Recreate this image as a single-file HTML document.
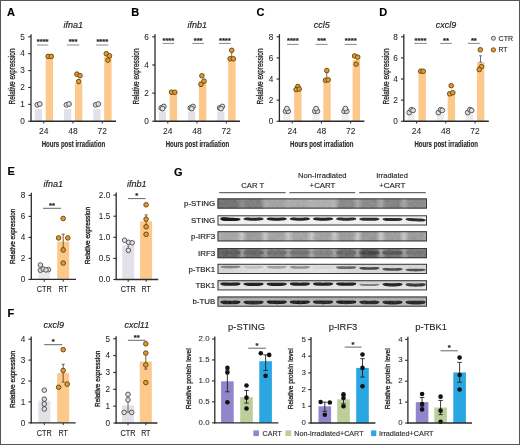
<!DOCTYPE html><html><head><meta charset="utf-8"><style>html,body{margin:0;padding:0;background:#fff;}svg{display:block;will-change:transform;} text{font-family:"Liberation Sans",sans-serif;}</style></head><body><svg width="520" height="445" viewBox="0 0 520 445" font-family="Liberation Sans">
<defs><filter id="bl" x="-20%" y="-50%" width="140%" height="200%"><feGaussianBlur stdDeviation="0.45"/></filter><filter id="nz"><feTurbulence type="fractalNoise" baseFrequency="0.35" numOctaves="2" seed="4"/><feColorMatrix type="saturate" values="0"/><feComponentTransfer><feFuncA type="table" tableValues="0 0.5"/></feComponentTransfer></filter><linearGradient id="vshade" x1="0" x2="0" y1="0" y2="1"><stop offset="0" stop-color="#000" stop-opacity="0.18"/><stop offset="0.5" stop-color="#000" stop-opacity="0.04"/><stop offset="1" stop-color="#fff" stop-opacity="0.1"/></linearGradient><pattern id="noise" patternUnits="userSpaceOnUse" width="520" height="445"><rect width="520" height="445" filter="url(#nz)"/></pattern></defs>
<rect width="520" height="445" fill="#fff"/>
<text x="7.00" y="16.20" font-size="11" text-anchor="start" font-weight="bold" font-style="normal" fill="#000" stroke="#000" stroke-width="0.16" >A</text>
<text x="73.30" y="27.80" font-size="9" text-anchor="middle" font-weight="normal" font-style="italic" fill="#222" stroke="#222" stroke-width="0.16" >ifna1</text>
<rect x="34.80" y="109.09" width="7.20" height="12.16" fill="#e2e1ea" />
<rect x="45.70" y="56.05" width="7.40" height="65.20" fill="#fcc88c" />
<circle cx="37.20" cy="104.87" r="2.4" fill="#dedee2" stroke="#4a4a4a" stroke-width="0.9"/>
<circle cx="39.80" cy="104.02" r="2.4" fill="#dedee2" stroke="#4a4a4a" stroke-width="0.9"/>
<circle cx="48.20" cy="56.39" r="2.3" fill="#dc9a38" stroke="#6e4608" stroke-width="0.95"/>
<circle cx="51.30" cy="56.39" r="2.3" fill="#dc9a38" stroke="#6e4608" stroke-width="0.95"/>
<rect x="64.00" y="109.09" width="7.20" height="12.16" fill="#e2e1ea" />
<rect x="74.90" y="83.25" width="7.40" height="38.00" fill="#fcc88c" />
<circle cx="66.40" cy="104.87" r="2.4" fill="#dedee2" stroke="#4a4a4a" stroke-width="0.9"/>
<circle cx="69.00" cy="104.02" r="2.4" fill="#dedee2" stroke="#4a4a4a" stroke-width="0.9"/>
<circle cx="76.90" cy="74.13" r="2.3" fill="#dc9a38" stroke="#6e4608" stroke-width="0.95"/>
<circle cx="80.00" cy="75.65" r="2.3" fill="#dc9a38" stroke="#6e4608" stroke-width="0.95"/>
<circle cx="78.70" cy="81.56" r="2.3" fill="#dc9a38" stroke="#6e4608" stroke-width="0.95"/>
<rect x="93.30" y="109.09" width="7.20" height="12.16" fill="#e2e1ea" />
<rect x="104.20" y="56.56" width="7.40" height="64.69" fill="#fcc88c" />
<circle cx="95.70" cy="104.87" r="2.4" fill="#dedee2" stroke="#4a4a4a" stroke-width="0.9"/>
<circle cx="98.30" cy="104.02" r="2.4" fill="#dedee2" stroke="#4a4a4a" stroke-width="0.9"/>
<circle cx="106.30" cy="53.69" r="2.3" fill="#dc9a38" stroke="#6e4608" stroke-width="0.95"/>
<circle cx="109.50" cy="55.89" r="2.3" fill="#dc9a38" stroke="#6e4608" stroke-width="0.95"/>
<circle cx="107.90" cy="60.11" r="2.3" fill="#dc9a38" stroke="#6e4608" stroke-width="0.95"/>
<line x1="31.00" y1="34.20" x2="31.00" y2="121.85" stroke="#2b2b2b" stroke-width="1.3"/>
<line x1="30.40" y1="121.25" x2="116.00" y2="121.25" stroke="#2b2b2b" stroke-width="1.3"/>
<line x1="28.20" y1="121.25" x2="31.00" y2="121.25" stroke="#2b2b2b" stroke-width="1.1"/>
<text x="24.90" y="124.04" font-size="8.2" text-anchor="end" font-weight="normal" font-style="normal" fill="#262626" stroke="#262626" stroke-width="0.05" >0</text>
<line x1="28.20" y1="104.36" x2="31.00" y2="104.36" stroke="#2b2b2b" stroke-width="1.1"/>
<text x="24.90" y="107.15" font-size="8.2" text-anchor="end" font-weight="normal" font-style="normal" fill="#262626" stroke="#262626" stroke-width="0.05" >1</text>
<line x1="28.20" y1="87.47" x2="31.00" y2="87.47" stroke="#2b2b2b" stroke-width="1.1"/>
<text x="24.90" y="90.26" font-size="8.2" text-anchor="end" font-weight="normal" font-style="normal" fill="#262626" stroke="#262626" stroke-width="0.05" >2</text>
<line x1="28.20" y1="70.58" x2="31.00" y2="70.58" stroke="#2b2b2b" stroke-width="1.1"/>
<text x="24.90" y="73.37" font-size="8.2" text-anchor="end" font-weight="normal" font-style="normal" fill="#262626" stroke="#262626" stroke-width="0.05" >3</text>
<line x1="28.20" y1="53.69" x2="31.00" y2="53.69" stroke="#2b2b2b" stroke-width="1.1"/>
<text x="24.90" y="56.48" font-size="8.2" text-anchor="end" font-weight="normal" font-style="normal" fill="#262626" stroke="#262626" stroke-width="0.05" >4</text>
<line x1="28.20" y1="36.80" x2="31.00" y2="36.80" stroke="#2b2b2b" stroke-width="1.1"/>
<text x="24.90" y="39.59" font-size="8.2" text-anchor="end" font-weight="normal" font-style="normal" fill="#262626" stroke="#262626" stroke-width="0.05" >5</text>
<line x1="43.80" y1="121.25" x2="43.80" y2="123.55" stroke="#2b2b2b" stroke-width="1.0"/>
<text x="43.80" y="134.40" font-size="8.5" text-anchor="middle" font-weight="normal" font-style="normal" fill="#262626" stroke="#262626" stroke-width="0.05" >24</text>
<line x1="73.00" y1="121.25" x2="73.00" y2="123.55" stroke="#2b2b2b" stroke-width="1.0"/>
<text x="73.00" y="134.40" font-size="8.5" text-anchor="middle" font-weight="normal" font-style="normal" fill="#262626" stroke="#262626" stroke-width="0.05" >48</text>
<line x1="102.30" y1="121.25" x2="102.30" y2="123.55" stroke="#2b2b2b" stroke-width="1.0"/>
<text x="102.30" y="134.40" font-size="8.5" text-anchor="middle" font-weight="normal" font-style="normal" fill="#262626" stroke="#262626" stroke-width="0.05" >72</text>
<text x="73.40" y="146.80" font-size="9.0" text-anchor="middle" font-weight="bold" font-style="normal" fill="#2a2a2a" stroke="#2a2a2a" stroke-width="0.15" textLength="63.5" lengthAdjust="spacingAndGlyphs" >Hours post irradiation</text>
<text transform="translate(14.50,76.50) rotate(-90)" font-size="8.2" text-anchor="middle" fill="#262626" stroke="#262626" stroke-width="0.3" textLength="56" lengthAdjust="spacingAndGlyphs">Relative expression</text>
<line x1="37.00" y1="45.00" x2="48.30" y2="45.00" stroke="#8a8a8a" stroke-width="1.0"/>
<text x="42.65" y="43.90" font-size="7.6" text-anchor="middle" font-weight="bold" font-style="normal" fill="#222" stroke="#222" stroke-width="0.16" >****</text>
<line x1="66.80" y1="45.00" x2="79.40" y2="45.00" stroke="#8a8a8a" stroke-width="1.0"/>
<text x="73.10" y="43.90" font-size="7.6" text-anchor="middle" font-weight="bold" font-style="normal" fill="#222" stroke="#222" stroke-width="0.16" >***</text>
<line x1="96.20" y1="45.00" x2="108.40" y2="45.00" stroke="#8a8a8a" stroke-width="1.0"/>
<text x="102.30" y="43.90" font-size="7.6" text-anchor="middle" font-weight="bold" font-style="normal" fill="#222" stroke="#222" stroke-width="0.16" >****</text>
<text x="131.20" y="16.20" font-size="11" text-anchor="start" font-weight="bold" font-style="normal" fill="#000" stroke="#000" stroke-width="0.16" >B</text>
<text x="197.30" y="27.80" font-size="9" text-anchor="middle" font-weight="normal" font-style="italic" fill="#222" stroke="#222" stroke-width="0.16" >ifnb1</text>
<rect x="158.80" y="111.40" width="7.20" height="9.85" fill="#e2e1ea" />
<rect x="169.70" y="92.68" width="7.40" height="28.57" fill="#fcc88c" />
<circle cx="161.20" cy="107.88" r="2.4" fill="#dedee2" stroke="#4a4a4a" stroke-width="0.9"/>
<circle cx="163.80" cy="106.47" r="2.4" fill="#dedee2" stroke="#4a4a4a" stroke-width="0.9"/>
<circle cx="162.50" cy="108.58" r="2.4" fill="#dedee2" stroke="#4a4a4a" stroke-width="0.9"/>
<circle cx="171.60" cy="92.26" r="2.3" fill="#dc9a38" stroke="#6e4608" stroke-width="0.95"/>
<circle cx="174.80" cy="92.26" r="2.3" fill="#dc9a38" stroke="#6e4608" stroke-width="0.95"/>
<rect x="188.00" y="111.40" width="7.20" height="9.85" fill="#e2e1ea" />
<rect x="198.90" y="81.14" width="7.40" height="40.11" fill="#fcc88c" />
<circle cx="190.40" cy="107.88" r="2.4" fill="#dedee2" stroke="#4a4a4a" stroke-width="0.9"/>
<circle cx="193.00" cy="106.47" r="2.4" fill="#dedee2" stroke="#4a4a4a" stroke-width="0.9"/>
<circle cx="191.70" cy="108.58" r="2.4" fill="#dedee2" stroke="#4a4a4a" stroke-width="0.9"/>
<circle cx="201.90" cy="75.79" r="2.3" fill="#dc9a38" stroke="#6e4608" stroke-width="0.95"/>
<circle cx="204.00" cy="81.14" r="2.3" fill="#dc9a38" stroke="#6e4608" stroke-width="0.95"/>
<circle cx="201.00" cy="84.37" r="2.3" fill="#dc9a38" stroke="#6e4608" stroke-width="0.95"/>
<rect x="217.30" y="111.40" width="7.20" height="9.85" fill="#e2e1ea" />
<rect x="228.20" y="59.32" width="7.40" height="61.93" fill="#fcc88c" />
<line x1="231.70" y1="59.32" x2="231.70" y2="50.88" stroke="#8a5a20" stroke-width="0.9"/>
<line x1="230.40" y1="50.88" x2="233.00" y2="50.88" stroke="#8a5a20" stroke-width="0.9"/>
<line x1="230.40" y1="59.32" x2="233.00" y2="59.32" stroke="#8a5a20" stroke-width="0.9"/>
<circle cx="219.70" cy="107.88" r="2.4" fill="#dedee2" stroke="#4a4a4a" stroke-width="0.9"/>
<circle cx="222.30" cy="106.47" r="2.4" fill="#dedee2" stroke="#4a4a4a" stroke-width="0.9"/>
<circle cx="221.00" cy="108.58" r="2.4" fill="#dedee2" stroke="#4a4a4a" stroke-width="0.9"/>
<circle cx="231.70" cy="50.31" r="2.3" fill="#dc9a38" stroke="#6e4608" stroke-width="0.95"/>
<circle cx="230.10" cy="58.76" r="2.3" fill="#dc9a38" stroke="#6e4608" stroke-width="0.95"/>
<circle cx="233.30" cy="58.76" r="2.3" fill="#dc9a38" stroke="#6e4608" stroke-width="0.95"/>
<line x1="155.00" y1="34.20" x2="155.00" y2="121.85" stroke="#2b2b2b" stroke-width="1.3"/>
<line x1="154.40" y1="121.25" x2="240.00" y2="121.25" stroke="#2b2b2b" stroke-width="1.3"/>
<line x1="152.20" y1="121.25" x2="155.00" y2="121.25" stroke="#2b2b2b" stroke-width="1.1"/>
<text x="148.90" y="124.04" font-size="8.2" text-anchor="end" font-weight="normal" font-style="normal" fill="#262626" stroke="#262626" stroke-width="0.05" >0</text>
<line x1="152.20" y1="93.10" x2="155.00" y2="93.10" stroke="#2b2b2b" stroke-width="1.1"/>
<text x="148.90" y="95.89" font-size="8.2" text-anchor="end" font-weight="normal" font-style="normal" fill="#262626" stroke="#262626" stroke-width="0.05" >2</text>
<line x1="152.20" y1="64.95" x2="155.00" y2="64.95" stroke="#2b2b2b" stroke-width="1.1"/>
<text x="148.90" y="67.74" font-size="8.2" text-anchor="end" font-weight="normal" font-style="normal" fill="#262626" stroke="#262626" stroke-width="0.05" >4</text>
<line x1="152.20" y1="36.80" x2="155.00" y2="36.80" stroke="#2b2b2b" stroke-width="1.1"/>
<text x="148.90" y="39.59" font-size="8.2" text-anchor="end" font-weight="normal" font-style="normal" fill="#262626" stroke="#262626" stroke-width="0.05" >6</text>
<line x1="167.80" y1="121.25" x2="167.80" y2="123.55" stroke="#2b2b2b" stroke-width="1.0"/>
<text x="167.80" y="134.40" font-size="8.5" text-anchor="middle" font-weight="normal" font-style="normal" fill="#262626" stroke="#262626" stroke-width="0.05" >24</text>
<line x1="197.00" y1="121.25" x2="197.00" y2="123.55" stroke="#2b2b2b" stroke-width="1.0"/>
<text x="197.00" y="134.40" font-size="8.5" text-anchor="middle" font-weight="normal" font-style="normal" fill="#262626" stroke="#262626" stroke-width="0.05" >48</text>
<line x1="226.30" y1="121.25" x2="226.30" y2="123.55" stroke="#2b2b2b" stroke-width="1.0"/>
<text x="226.30" y="134.40" font-size="8.5" text-anchor="middle" font-weight="normal" font-style="normal" fill="#262626" stroke="#262626" stroke-width="0.05" >72</text>
<text x="197.40" y="146.80" font-size="9.0" text-anchor="middle" font-weight="bold" font-style="normal" fill="#2a2a2a" stroke="#2a2a2a" stroke-width="0.15" textLength="63.5" lengthAdjust="spacingAndGlyphs" >Hours post irradiation</text>
<text transform="translate(138.70,76.50) rotate(-90)" font-size="8.2" text-anchor="middle" fill="#262626" stroke="#262626" stroke-width="0.3" textLength="56" lengthAdjust="spacingAndGlyphs">Relative expression</text>
<line x1="162.50" y1="43.40" x2="174.20" y2="43.40" stroke="#8a8a8a" stroke-width="1.0"/>
<text x="168.35" y="42.60" font-size="7.6" text-anchor="middle" font-weight="bold" font-style="normal" fill="#222" stroke="#222" stroke-width="0.16" >****</text>
<line x1="192.30" y1="43.40" x2="204.00" y2="43.40" stroke="#8a8a8a" stroke-width="1.0"/>
<text x="198.15" y="42.60" font-size="7.6" text-anchor="middle" font-weight="bold" font-style="normal" fill="#222" stroke="#222" stroke-width="0.16" >***</text>
<line x1="219.00" y1="43.40" x2="230.70" y2="43.40" stroke="#8a8a8a" stroke-width="1.0"/>
<text x="224.85" y="42.60" font-size="7.6" text-anchor="middle" font-weight="bold" font-style="normal" fill="#222" stroke="#222" stroke-width="0.16" >****</text>
<text x="256.50" y="16.20" font-size="11" text-anchor="start" font-weight="bold" font-style="normal" fill="#000" stroke="#000" stroke-width="0.16" >C</text>
<text x="321.70" y="27.80" font-size="9" text-anchor="middle" font-weight="normal" font-style="italic" fill="#222" stroke="#222" stroke-width="0.16" >ccl5</text>
<rect x="283.20" y="113.86" width="7.20" height="7.39" fill="#efeff1" />
<rect x="294.10" y="90.11" width="7.40" height="31.14" fill="#fcc88c" />
<circle cx="285.60" cy="111.22" r="2.4" fill="#dedee2" stroke="#4a4a4a" stroke-width="0.9"/>
<circle cx="288.20" cy="111.22" r="2.4" fill="#dedee2" stroke="#4a4a4a" stroke-width="0.9"/>
<circle cx="286.90" cy="108.58" r="2.4" fill="#dedee2" stroke="#4a4a4a" stroke-width="0.9"/>
<circle cx="297.80" cy="86.52" r="2.3" fill="#dc9a38" stroke="#6e4608" stroke-width="0.95"/>
<circle cx="296.10" cy="89.58" r="2.3" fill="#dc9a38" stroke="#6e4608" stroke-width="0.95"/>
<circle cx="299.20" cy="89.05" r="2.3" fill="#dc9a38" stroke="#6e4608" stroke-width="0.95"/>
<rect x="312.40" y="113.86" width="7.20" height="7.39" fill="#efeff1" />
<rect x="323.30" y="82.19" width="7.40" height="39.06" fill="#fcc88c" />
<line x1="326.80" y1="80.08" x2="326.80" y2="70.58" stroke="#8a5a20" stroke-width="0.9"/>
<line x1="325.50" y1="70.58" x2="328.10" y2="70.58" stroke="#8a5a20" stroke-width="0.9"/>
<line x1="325.50" y1="80.08" x2="328.10" y2="80.08" stroke="#8a5a20" stroke-width="0.9"/>
<circle cx="314.80" cy="111.22" r="2.4" fill="#dedee2" stroke="#4a4a4a" stroke-width="0.9"/>
<circle cx="317.40" cy="111.22" r="2.4" fill="#dedee2" stroke="#4a4a4a" stroke-width="0.9"/>
<circle cx="316.10" cy="108.58" r="2.4" fill="#dedee2" stroke="#4a4a4a" stroke-width="0.9"/>
<circle cx="326.80" cy="70.58" r="2.3" fill="#dc9a38" stroke="#6e4608" stroke-width="0.95"/>
<circle cx="325.50" cy="80.29" r="2.3" fill="#dc9a38" stroke="#6e4608" stroke-width="0.95"/>
<circle cx="328.20" cy="79.87" r="2.3" fill="#dc9a38" stroke="#6e4608" stroke-width="0.95"/>
<rect x="341.70" y="113.86" width="7.20" height="7.39" fill="#efeff1" />
<rect x="352.60" y="60.02" width="7.40" height="61.23" fill="#fcc88c" />
<circle cx="344.10" cy="111.22" r="2.4" fill="#dedee2" stroke="#4a4a4a" stroke-width="0.9"/>
<circle cx="346.70" cy="111.22" r="2.4" fill="#dedee2" stroke="#4a4a4a" stroke-width="0.9"/>
<circle cx="345.40" cy="108.58" r="2.4" fill="#dedee2" stroke="#4a4a4a" stroke-width="0.9"/>
<circle cx="354.60" cy="56.01" r="2.3" fill="#dc9a38" stroke="#6e4608" stroke-width="0.95"/>
<circle cx="357.70" cy="57.17" r="2.3" fill="#dc9a38" stroke="#6e4608" stroke-width="0.95"/>
<circle cx="356.10" cy="64.14" r="2.3" fill="#dc9a38" stroke="#6e4608" stroke-width="0.95"/>
<line x1="279.40" y1="34.20" x2="279.40" y2="121.85" stroke="#2b2b2b" stroke-width="1.3"/>
<line x1="278.80" y1="121.25" x2="364.40" y2="121.25" stroke="#2b2b2b" stroke-width="1.3"/>
<line x1="276.60" y1="121.25" x2="279.40" y2="121.25" stroke="#2b2b2b" stroke-width="1.1"/>
<text x="273.30" y="124.04" font-size="8.2" text-anchor="end" font-weight="normal" font-style="normal" fill="#262626" stroke="#262626" stroke-width="0.05" >0</text>
<line x1="276.60" y1="100.14" x2="279.40" y2="100.14" stroke="#2b2b2b" stroke-width="1.1"/>
<text x="273.30" y="102.93" font-size="8.2" text-anchor="end" font-weight="normal" font-style="normal" fill="#262626" stroke="#262626" stroke-width="0.05" >2</text>
<line x1="276.60" y1="79.03" x2="279.40" y2="79.03" stroke="#2b2b2b" stroke-width="1.1"/>
<text x="273.30" y="81.81" font-size="8.2" text-anchor="end" font-weight="normal" font-style="normal" fill="#262626" stroke="#262626" stroke-width="0.05" >4</text>
<line x1="276.60" y1="57.91" x2="279.40" y2="57.91" stroke="#2b2b2b" stroke-width="1.1"/>
<text x="273.30" y="60.70" font-size="8.2" text-anchor="end" font-weight="normal" font-style="normal" fill="#262626" stroke="#262626" stroke-width="0.05" >6</text>
<line x1="276.60" y1="36.80" x2="279.40" y2="36.80" stroke="#2b2b2b" stroke-width="1.1"/>
<text x="273.30" y="39.59" font-size="8.2" text-anchor="end" font-weight="normal" font-style="normal" fill="#262626" stroke="#262626" stroke-width="0.05" >8</text>
<line x1="292.20" y1="121.25" x2="292.20" y2="123.55" stroke="#2b2b2b" stroke-width="1.0"/>
<text x="292.20" y="134.40" font-size="8.5" text-anchor="middle" font-weight="normal" font-style="normal" fill="#262626" stroke="#262626" stroke-width="0.05" >24</text>
<line x1="321.40" y1="121.25" x2="321.40" y2="123.55" stroke="#2b2b2b" stroke-width="1.0"/>
<text x="321.40" y="134.40" font-size="8.5" text-anchor="middle" font-weight="normal" font-style="normal" fill="#262626" stroke="#262626" stroke-width="0.05" >48</text>
<line x1="350.70" y1="121.25" x2="350.70" y2="123.55" stroke="#2b2b2b" stroke-width="1.0"/>
<text x="350.70" y="134.40" font-size="8.5" text-anchor="middle" font-weight="normal" font-style="normal" fill="#262626" stroke="#262626" stroke-width="0.05" >72</text>
<text x="321.80" y="146.80" font-size="9.0" text-anchor="middle" font-weight="bold" font-style="normal" fill="#2a2a2a" stroke="#2a2a2a" stroke-width="0.15" textLength="63.5" lengthAdjust="spacingAndGlyphs" >Hours post irradiation</text>
<text transform="translate(263.40,76.50) rotate(-90)" font-size="8.2" text-anchor="middle" fill="#262626" stroke="#262626" stroke-width="0.3" textLength="56" lengthAdjust="spacingAndGlyphs">Relative expression</text>
<line x1="287.10" y1="44.40" x2="298.60" y2="44.40" stroke="#8a8a8a" stroke-width="1.0"/>
<text x="292.85" y="43.40" font-size="7.6" text-anchor="middle" font-weight="bold" font-style="normal" fill="#222" stroke="#222" stroke-width="0.16" >****</text>
<line x1="315.70" y1="44.40" x2="327.60" y2="44.40" stroke="#8a8a8a" stroke-width="1.0"/>
<text x="321.65" y="43.40" font-size="7.6" text-anchor="middle" font-weight="bold" font-style="normal" fill="#222" stroke="#222" stroke-width="0.16" >***</text>
<line x1="344.70" y1="44.40" x2="356.80" y2="44.40" stroke="#8a8a8a" stroke-width="1.0"/>
<text x="350.75" y="43.40" font-size="7.6" text-anchor="middle" font-weight="bold" font-style="normal" fill="#222" stroke="#222" stroke-width="0.16" >****</text>
<text x="379.20" y="16.20" font-size="11" text-anchor="start" font-weight="bold" font-style="normal" fill="#000" stroke="#000" stroke-width="0.16" >D</text>
<text x="446.10" y="27.80" font-size="9" text-anchor="middle" font-weight="normal" font-style="italic" fill="#222" stroke="#222" stroke-width="0.16" >cxcl9</text>
<rect x="407.60" y="113.86" width="7.20" height="7.39" fill="#ececef" />
<rect x="418.50" y="71.64" width="7.40" height="49.61" fill="#fcc88c" />
<circle cx="409.20" cy="112.59" r="2.4" fill="#dedee2" stroke="#4a4a4a" stroke-width="0.9"/>
<circle cx="411.40" cy="109.74" r="2.4" fill="#dedee2" stroke="#4a4a4a" stroke-width="0.9"/>
<circle cx="413.10" cy="110.38" r="2.4" fill="#dedee2" stroke="#4a4a4a" stroke-width="0.9"/>
<circle cx="420.70" cy="71.21" r="2.3" fill="#dc9a38" stroke="#6e4608" stroke-width="0.95"/>
<circle cx="423.20" cy="71.21" r="2.3" fill="#dc9a38" stroke="#6e4608" stroke-width="0.95"/>
<rect x="436.80" y="113.86" width="7.20" height="7.39" fill="#ececef" />
<rect x="447.70" y="92.11" width="7.40" height="29.14" fill="#fcc88c" />
<circle cx="438.40" cy="112.59" r="2.4" fill="#dedee2" stroke="#4a4a4a" stroke-width="0.9"/>
<circle cx="440.60" cy="109.74" r="2.4" fill="#dedee2" stroke="#4a4a4a" stroke-width="0.9"/>
<circle cx="442.30" cy="110.38" r="2.4" fill="#dedee2" stroke="#4a4a4a" stroke-width="0.9"/>
<circle cx="451.20" cy="85.68" r="2.3" fill="#dc9a38" stroke="#6e4608" stroke-width="0.95"/>
<circle cx="449.70" cy="93.80" r="2.3" fill="#dc9a38" stroke="#6e4608" stroke-width="0.95"/>
<circle cx="452.80" cy="92.75" r="2.3" fill="#dc9a38" stroke="#6e4608" stroke-width="0.95"/>
<rect x="466.10" y="113.86" width="7.20" height="7.39" fill="#ececef" />
<rect x="477.00" y="62.14" width="7.40" height="59.11" fill="#fcc88c" />
<line x1="480.50" y1="62.14" x2="480.50" y2="55.80" stroke="#4a6080" stroke-width="0.9"/>
<line x1="479.20" y1="55.80" x2="481.80" y2="55.80" stroke="#4a6080" stroke-width="0.9"/>
<line x1="479.20" y1="62.14" x2="481.80" y2="62.14" stroke="#4a6080" stroke-width="0.9"/>
<circle cx="467.70" cy="112.59" r="2.4" fill="#dedee2" stroke="#4a4a4a" stroke-width="0.9"/>
<circle cx="469.90" cy="109.74" r="2.4" fill="#dedee2" stroke="#4a4a4a" stroke-width="0.9"/>
<circle cx="471.60" cy="110.38" r="2.4" fill="#dedee2" stroke="#4a4a4a" stroke-width="0.9"/>
<circle cx="480.30" cy="49.78" r="2.3" fill="#dc9a38" stroke="#6e4608" stroke-width="0.95"/>
<circle cx="481.50" cy="66.67" r="2.3" fill="#dc9a38" stroke="#6e4608" stroke-width="0.95"/>
<circle cx="479.30" cy="69.52" r="2.3" fill="#dc9a38" stroke="#6e4608" stroke-width="0.95"/>
<line x1="403.80" y1="34.20" x2="403.80" y2="121.85" stroke="#2b2b2b" stroke-width="1.3"/>
<line x1="403.20" y1="121.25" x2="488.80" y2="121.25" stroke="#2b2b2b" stroke-width="1.3"/>
<line x1="401.00" y1="121.25" x2="403.80" y2="121.25" stroke="#2b2b2b" stroke-width="1.1"/>
<text x="397.70" y="124.04" font-size="8.2" text-anchor="end" font-weight="normal" font-style="normal" fill="#262626" stroke="#262626" stroke-width="0.05" >0</text>
<line x1="401.00" y1="100.14" x2="403.80" y2="100.14" stroke="#2b2b2b" stroke-width="1.1"/>
<text x="397.70" y="102.93" font-size="8.2" text-anchor="end" font-weight="normal" font-style="normal" fill="#262626" stroke="#262626" stroke-width="0.05" >2</text>
<line x1="401.00" y1="79.03" x2="403.80" y2="79.03" stroke="#2b2b2b" stroke-width="1.1"/>
<text x="397.70" y="81.81" font-size="8.2" text-anchor="end" font-weight="normal" font-style="normal" fill="#262626" stroke="#262626" stroke-width="0.05" >4</text>
<line x1="401.00" y1="57.91" x2="403.80" y2="57.91" stroke="#2b2b2b" stroke-width="1.1"/>
<text x="397.70" y="60.70" font-size="8.2" text-anchor="end" font-weight="normal" font-style="normal" fill="#262626" stroke="#262626" stroke-width="0.05" >6</text>
<line x1="401.00" y1="36.80" x2="403.80" y2="36.80" stroke="#2b2b2b" stroke-width="1.1"/>
<text x="397.70" y="39.59" font-size="8.2" text-anchor="end" font-weight="normal" font-style="normal" fill="#262626" stroke="#262626" stroke-width="0.05" >8</text>
<line x1="416.60" y1="121.25" x2="416.60" y2="123.55" stroke="#2b2b2b" stroke-width="1.0"/>
<text x="416.60" y="134.40" font-size="8.5" text-anchor="middle" font-weight="normal" font-style="normal" fill="#262626" stroke="#262626" stroke-width="0.05" >24</text>
<line x1="445.80" y1="121.25" x2="445.80" y2="123.55" stroke="#2b2b2b" stroke-width="1.0"/>
<text x="445.80" y="134.40" font-size="8.5" text-anchor="middle" font-weight="normal" font-style="normal" fill="#262626" stroke="#262626" stroke-width="0.05" >48</text>
<line x1="475.10" y1="121.25" x2="475.10" y2="123.55" stroke="#2b2b2b" stroke-width="1.0"/>
<text x="475.10" y="134.40" font-size="8.5" text-anchor="middle" font-weight="normal" font-style="normal" fill="#262626" stroke="#262626" stroke-width="0.05" >72</text>
<text x="446.20" y="146.80" font-size="9.0" text-anchor="middle" font-weight="bold" font-style="normal" fill="#2a2a2a" stroke="#2a2a2a" stroke-width="0.15" textLength="63.5" lengthAdjust="spacingAndGlyphs" >Hours post irradiation</text>
<text transform="translate(388.90,76.50) rotate(-90)" font-size="8.2" text-anchor="middle" fill="#262626" stroke="#262626" stroke-width="0.3" textLength="56" lengthAdjust="spacingAndGlyphs">Relative expression</text>
<line x1="414.20" y1="43.40" x2="426.80" y2="43.40" stroke="#8a8a8a" stroke-width="1.0"/>
<text x="420.50" y="42.80" font-size="7.6" text-anchor="middle" font-weight="bold" font-style="normal" fill="#222" stroke="#222" stroke-width="0.16" >****</text>
<line x1="440.10" y1="43.40" x2="451.90" y2="43.40" stroke="#8a8a8a" stroke-width="1.0"/>
<text x="446.00" y="42.80" font-size="7.6" text-anchor="middle" font-weight="bold" font-style="normal" fill="#222" stroke="#222" stroke-width="0.16" >**</text>
<line x1="467.80" y1="43.40" x2="479.90" y2="43.40" stroke="#8a8a8a" stroke-width="1.0"/>
<text x="473.85" y="42.80" font-size="7.6" text-anchor="middle" font-weight="bold" font-style="normal" fill="#222" stroke="#222" stroke-width="0.16" >**</text>
<circle cx="493.40" cy="38.25" r="2.0" fill="#dedee2" stroke="#4a4a4a" stroke-width="0.9"/>
<text x="498.60" y="40.50" font-size="7.7" text-anchor="start" font-weight="normal" font-style="normal" fill="#2a2a2a" stroke="#2a2a2a" stroke-width="0.16" textLength="14.4" lengthAdjust="spacingAndGlyphs" >CTR</text>
<circle cx="493.40" cy="49.90" r="2.2" fill="#dc9a38" stroke="#6e4608" stroke-width="0.8"/>
<text x="498.60" y="52.40" font-size="7.7" text-anchor="start" font-weight="normal" font-style="normal" fill="#2a2a2a" stroke="#2a2a2a" stroke-width="0.16" textLength="8.8" lengthAdjust="spacingAndGlyphs" >RT</text>
<text x="7.60" y="175.00" font-size="11" text-anchor="start" font-weight="bold" font-style="normal" fill="#000" stroke="#000" stroke-width="0.16" >E</text>
<text x="53.30" y="187.00" font-size="9" text-anchor="middle" font-weight="normal" font-style="italic" fill="#222" stroke="#222" stroke-width="0.16" >ifna1</text>
<rect x="38.20" y="271.52" width="12.00" height="7.88" fill="#ebebef" />
<rect x="57.20" y="241.60" width="12.00" height="37.80" fill="#fcc88c" />
<line x1="63.20" y1="247.90" x2="63.20" y2="234.25" stroke="#6a4a20" stroke-width="0.9"/>
<line x1="61.70" y1="234.25" x2="64.70" y2="234.25" stroke="#6a4a20" stroke-width="0.9"/>
<line x1="61.70" y1="247.90" x2="64.70" y2="247.90" stroke="#6a4a20" stroke-width="0.9"/>
<circle cx="40.40" cy="265.01" r="2.3" fill="#dedee2" stroke="#4a4a4a" stroke-width="0.9"/>
<circle cx="40.40" cy="270.26" r="2.3" fill="#dedee2" stroke="#4a4a4a" stroke-width="0.9"/>
<circle cx="43.20" cy="269.00" r="2.3" fill="#dedee2" stroke="#4a4a4a" stroke-width="0.9"/>
<circle cx="48.40" cy="269.63" r="2.3" fill="#dedee2" stroke="#4a4a4a" stroke-width="0.9"/>
<circle cx="46.00" cy="269.95" r="2.3" fill="#dedee2" stroke="#4a4a4a" stroke-width="0.9"/>
<circle cx="63.20" cy="218.50" r="2.3" fill="#dc9a38" stroke="#6e4608" stroke-width="0.95"/>
<circle cx="58.60" cy="237.92" r="2.3" fill="#dc9a38" stroke="#6e4608" stroke-width="0.95"/>
<circle cx="67.80" cy="237.92" r="2.3" fill="#dc9a38" stroke="#6e4608" stroke-width="0.95"/>
<circle cx="63.20" cy="250.00" r="2.3" fill="#dc9a38" stroke="#6e4608" stroke-width="0.95"/>
<circle cx="63.20" cy="263.02" r="2.3" fill="#dc9a38" stroke="#6e4608" stroke-width="0.95"/>
<line x1="31.30" y1="192.80" x2="31.30" y2="280.00" stroke="#2b2b2b" stroke-width="1.3"/>
<line x1="30.70" y1="279.40" x2="76.00" y2="279.40" stroke="#2b2b2b" stroke-width="1.3"/>
<line x1="28.50" y1="279.40" x2="31.30" y2="279.40" stroke="#2b2b2b" stroke-width="1.1"/>
<text x="25.30" y="282.19" font-size="8.2" text-anchor="end" font-weight="normal" font-style="normal" fill="#262626" stroke="#262626" stroke-width="0.05" >0</text>
<line x1="28.50" y1="258.40" x2="31.30" y2="258.40" stroke="#2b2b2b" stroke-width="1.1"/>
<text x="25.30" y="261.19" font-size="8.2" text-anchor="end" font-weight="normal" font-style="normal" fill="#262626" stroke="#262626" stroke-width="0.05" >2</text>
<line x1="28.50" y1="237.40" x2="31.30" y2="237.40" stroke="#2b2b2b" stroke-width="1.1"/>
<text x="25.30" y="240.19" font-size="8.2" text-anchor="end" font-weight="normal" font-style="normal" fill="#262626" stroke="#262626" stroke-width="0.05" >4</text>
<line x1="28.50" y1="216.40" x2="31.30" y2="216.40" stroke="#2b2b2b" stroke-width="1.1"/>
<text x="25.30" y="219.19" font-size="8.2" text-anchor="end" font-weight="normal" font-style="normal" fill="#262626" stroke="#262626" stroke-width="0.05" >6</text>
<line x1="28.50" y1="195.40" x2="31.30" y2="195.40" stroke="#2b2b2b" stroke-width="1.1"/>
<text x="25.30" y="198.19" font-size="8.2" text-anchor="end" font-weight="normal" font-style="normal" fill="#262626" stroke="#262626" stroke-width="0.05" >8</text>
<line x1="44.20" y1="279.40" x2="44.20" y2="281.70" stroke="#2b2b2b" stroke-width="1.0"/>
<text x="44.20" y="292.20" font-size="9.4" text-anchor="middle" font-weight="normal" font-style="normal" fill="#262626" stroke="#262626" stroke-width="0.12" textLength="15.0" lengthAdjust="spacingAndGlyphs" >CTR</text>
<line x1="63.20" y1="279.40" x2="63.20" y2="281.70" stroke="#2b2b2b" stroke-width="1.0"/>
<text x="63.20" y="292.20" font-size="9.4" text-anchor="middle" font-weight="normal" font-style="normal" fill="#262626" stroke="#262626" stroke-width="0.12" textLength="9.3" lengthAdjust="spacingAndGlyphs" >RT</text>
<line x1="43.00" y1="208.30" x2="61.00" y2="208.30" stroke="#555" stroke-width="0.9"/>
<text x="52.00" y="207.60" font-size="7.6" text-anchor="middle" font-weight="bold" font-style="normal" fill="#222" stroke="#222" stroke-width="0.16" >**</text>
<text transform="translate(14.60,236.40) rotate(-90)" font-size="7.7" text-anchor="middle" fill="#262626" stroke="#262626" stroke-width="0.35" textLength="55.3" lengthAdjust="spacingAndGlyphs">Relative expression</text>
<text x="136.70" y="186.80" font-size="9" text-anchor="middle" font-weight="normal" font-style="italic" fill="#222" stroke="#222" stroke-width="0.16" >ifnb1</text>
<rect x="122.20" y="245.32" width="12.00" height="34.18" fill="#e2e1ea" />
<rect x="140.10" y="221.26" width="12.00" height="58.24" fill="#fcc88c" />
<line x1="128.20" y1="249.12" x2="128.20" y2="241.52" stroke="#555" stroke-width="0.9"/>
<line x1="126.70" y1="241.52" x2="129.70" y2="241.52" stroke="#555" stroke-width="0.9"/>
<line x1="126.70" y1="249.12" x2="129.70" y2="249.12" stroke="#555" stroke-width="0.9"/>
<line x1="146.10" y1="227.59" x2="146.10" y2="214.93" stroke="#6a4a20" stroke-width="0.9"/>
<line x1="144.60" y1="214.93" x2="147.60" y2="214.93" stroke="#6a4a20" stroke-width="0.9"/>
<line x1="144.60" y1="227.59" x2="147.60" y2="227.59" stroke="#6a4a20" stroke-width="0.9"/>
<circle cx="124.60" cy="240.25" r="2.3" fill="#dedee2" stroke="#4a4a4a" stroke-width="0.9"/>
<circle cx="128.60" cy="242.36" r="2.3" fill="#dedee2" stroke="#4a4a4a" stroke-width="0.9"/>
<circle cx="132.20" cy="242.79" r="2.3" fill="#dedee2" stroke="#4a4a4a" stroke-width="0.9"/>
<circle cx="128.40" cy="250.38" r="2.3" fill="#dedee2" stroke="#4a4a4a" stroke-width="0.9"/>
<circle cx="146.10" cy="204.81" r="2.3" fill="#dc9a38" stroke="#6e4608" stroke-width="0.95"/>
<circle cx="146.10" cy="219.15" r="2.3" fill="#dc9a38" stroke="#6e4608" stroke-width="0.95"/>
<circle cx="146.10" cy="226.75" r="2.3" fill="#dc9a38" stroke="#6e4608" stroke-width="0.95"/>
<circle cx="146.10" cy="234.35" r="2.3" fill="#dc9a38" stroke="#6e4608" stroke-width="0.95"/>
<line x1="116.20" y1="192.50" x2="116.20" y2="280.10" stroke="#2b2b2b" stroke-width="1.3"/>
<line x1="115.60" y1="279.50" x2="158.20" y2="279.50" stroke="#2b2b2b" stroke-width="1.3"/>
<line x1="113.40" y1="279.50" x2="116.20" y2="279.50" stroke="#2b2b2b" stroke-width="1.1"/>
<text x="110.20" y="282.29" font-size="8.2" text-anchor="end" font-weight="normal" font-style="normal" fill="#262626" stroke="#262626" stroke-width="0.05" >0.0</text>
<line x1="113.40" y1="258.40" x2="116.20" y2="258.40" stroke="#2b2b2b" stroke-width="1.1"/>
<text x="110.20" y="261.19" font-size="8.2" text-anchor="end" font-weight="normal" font-style="normal" fill="#262626" stroke="#262626" stroke-width="0.05" >0.5</text>
<line x1="113.40" y1="237.30" x2="116.20" y2="237.30" stroke="#2b2b2b" stroke-width="1.1"/>
<text x="110.20" y="240.09" font-size="8.2" text-anchor="end" font-weight="normal" font-style="normal" fill="#262626" stroke="#262626" stroke-width="0.05" >1.0</text>
<line x1="113.40" y1="216.20" x2="116.20" y2="216.20" stroke="#2b2b2b" stroke-width="1.1"/>
<text x="110.20" y="218.99" font-size="8.2" text-anchor="end" font-weight="normal" font-style="normal" fill="#262626" stroke="#262626" stroke-width="0.05" >1.5</text>
<line x1="113.40" y1="195.10" x2="116.20" y2="195.10" stroke="#2b2b2b" stroke-width="1.1"/>
<text x="110.20" y="197.89" font-size="8.2" text-anchor="end" font-weight="normal" font-style="normal" fill="#262626" stroke="#262626" stroke-width="0.05" >2.0</text>
<line x1="128.20" y1="279.50" x2="128.20" y2="281.80" stroke="#2b2b2b" stroke-width="1.0"/>
<text x="128.20" y="292.30" font-size="9.4" text-anchor="middle" font-weight="normal" font-style="normal" fill="#262626" stroke="#262626" stroke-width="0.12" textLength="15.0" lengthAdjust="spacingAndGlyphs" >CTR</text>
<line x1="146.10" y1="279.50" x2="146.10" y2="281.80" stroke="#2b2b2b" stroke-width="1.0"/>
<text x="146.10" y="292.30" font-size="9.4" text-anchor="middle" font-weight="normal" font-style="normal" fill="#262626" stroke="#262626" stroke-width="0.12" textLength="9.3" lengthAdjust="spacingAndGlyphs" >RT</text>
<line x1="127.90" y1="198.60" x2="145.60" y2="198.60" stroke="#555" stroke-width="0.9"/>
<text x="136.75" y="198.00" font-size="7.6" text-anchor="middle" font-weight="bold" font-style="normal" fill="#222" stroke="#222" stroke-width="0.16" >*</text>
<text transform="translate(90.20,235.50) rotate(-90)" font-size="7.4" text-anchor="middle" fill="#262626" stroke="#262626" stroke-width="0.35" textLength="57.3" lengthAdjust="spacingAndGlyphs">Relative expression</text>
<text x="7.60" y="316.50" font-size="11" text-anchor="start" font-weight="bold" font-style="normal" fill="#000" stroke="#000" stroke-width="0.16" >F</text>
<text x="53.80" y="327.80" font-size="9" text-anchor="middle" font-weight="normal" font-style="italic" fill="#222" stroke="#222" stroke-width="0.16" >cxcl9</text>
<rect x="38.30" y="400.65" width="12.00" height="22.15" fill="#e2e2e6" />
<rect x="57.20" y="373.06" width="12.00" height="49.74" fill="#fcc88c" />
<line x1="44.30" y1="406.08" x2="44.30" y2="397.72" stroke="#555" stroke-width="0.9"/>
<line x1="42.80" y1="397.72" x2="45.80" y2="397.72" stroke="#555" stroke-width="0.9"/>
<line x1="42.80" y1="406.08" x2="45.80" y2="406.08" stroke="#555" stroke-width="0.9"/>
<line x1="63.20" y1="382.05" x2="63.20" y2="364.28" stroke="#6a4a20" stroke-width="0.9"/>
<line x1="61.70" y1="364.28" x2="64.70" y2="364.28" stroke="#6a4a20" stroke-width="0.9"/>
<line x1="61.70" y1="382.05" x2="64.70" y2="382.05" stroke="#6a4a20" stroke-width="0.9"/>
<circle cx="44.30" cy="390.20" r="2.3" fill="#dedee2" stroke="#4a4a4a" stroke-width="0.9"/>
<circle cx="44.30" cy="399.18" r="2.3" fill="#dedee2" stroke="#4a4a4a" stroke-width="0.9"/>
<circle cx="44.30" cy="403.99" r="2.3" fill="#dedee2" stroke="#4a4a4a" stroke-width="0.9"/>
<circle cx="44.30" cy="409.01" r="2.3" fill="#dedee2" stroke="#4a4a4a" stroke-width="0.9"/>
<circle cx="63.20" cy="349.65" r="2.3" fill="#dc9a38" stroke="#6e4608" stroke-width="0.95"/>
<circle cx="63.20" cy="370.55" r="2.3" fill="#dc9a38" stroke="#6e4608" stroke-width="0.95"/>
<circle cx="58.60" cy="387.27" r="2.3" fill="#dc9a38" stroke="#6e4608" stroke-width="0.95"/>
<circle cx="67.20" cy="384.13" r="2.3" fill="#dc9a38" stroke="#6e4608" stroke-width="0.95"/>
<line x1="31.20" y1="336.60" x2="31.20" y2="423.40" stroke="#2b2b2b" stroke-width="1.3"/>
<line x1="30.60" y1="422.80" x2="75.70" y2="422.80" stroke="#2b2b2b" stroke-width="1.3"/>
<line x1="28.40" y1="422.80" x2="31.20" y2="422.80" stroke="#2b2b2b" stroke-width="1.1"/>
<text x="25.20" y="425.59" font-size="8.2" text-anchor="end" font-weight="normal" font-style="normal" fill="#262626" stroke="#262626" stroke-width="0.05" >0</text>
<line x1="28.40" y1="401.90" x2="31.20" y2="401.90" stroke="#2b2b2b" stroke-width="1.1"/>
<text x="25.20" y="404.69" font-size="8.2" text-anchor="end" font-weight="normal" font-style="normal" fill="#262626" stroke="#262626" stroke-width="0.05" >1</text>
<line x1="28.40" y1="381.00" x2="31.20" y2="381.00" stroke="#2b2b2b" stroke-width="1.1"/>
<text x="25.20" y="383.79" font-size="8.2" text-anchor="end" font-weight="normal" font-style="normal" fill="#262626" stroke="#262626" stroke-width="0.05" >2</text>
<line x1="28.40" y1="360.10" x2="31.20" y2="360.10" stroke="#2b2b2b" stroke-width="1.1"/>
<text x="25.20" y="362.89" font-size="8.2" text-anchor="end" font-weight="normal" font-style="normal" fill="#262626" stroke="#262626" stroke-width="0.05" >3</text>
<line x1="28.40" y1="339.20" x2="31.20" y2="339.20" stroke="#2b2b2b" stroke-width="1.1"/>
<text x="25.20" y="341.99" font-size="8.2" text-anchor="end" font-weight="normal" font-style="normal" fill="#262626" stroke="#262626" stroke-width="0.05" >4</text>
<line x1="44.30" y1="422.80" x2="44.30" y2="425.10" stroke="#2b2b2b" stroke-width="1.0"/>
<text x="44.30" y="435.60" font-size="9.4" text-anchor="middle" font-weight="normal" font-style="normal" fill="#262626" stroke="#262626" stroke-width="0.12" textLength="15.0" lengthAdjust="spacingAndGlyphs" >CTR</text>
<line x1="63.20" y1="422.80" x2="63.20" y2="425.10" stroke="#2b2b2b" stroke-width="1.0"/>
<text x="63.20" y="435.60" font-size="9.4" text-anchor="middle" font-weight="normal" font-style="normal" fill="#262626" stroke="#262626" stroke-width="0.12" textLength="9.3" lengthAdjust="spacingAndGlyphs" >RT</text>
<line x1="44.20" y1="344.70" x2="62.40" y2="344.70" stroke="#555" stroke-width="0.9"/>
<text x="53.30" y="344.00" font-size="7.6" text-anchor="middle" font-weight="bold" font-style="normal" fill="#222" stroke="#222" stroke-width="0.16" >*</text>
<text transform="translate(14.50,379.40) rotate(-90)" font-size="7.7" text-anchor="middle" fill="#262626" stroke="#262626" stroke-width="0.35" textLength="57.3" lengthAdjust="spacingAndGlyphs">Relative expression</text>
<text x="136.80" y="328.20" font-size="9" text-anchor="middle" font-weight="normal" font-style="italic" fill="#222" stroke="#222" stroke-width="0.16" >cxcl11</text>
<rect x="122.00" y="405.31" width="12.00" height="17.69" fill="#e2e1ea" />
<rect x="139.80" y="361.50" width="12.00" height="61.50" fill="#fcc88c" />
<line x1="128.00" y1="412.05" x2="128.00" y2="399.41" stroke="#555" stroke-width="0.9"/>
<line x1="126.50" y1="399.41" x2="129.50" y2="399.41" stroke="#555" stroke-width="0.9"/>
<line x1="126.50" y1="412.05" x2="129.50" y2="412.05" stroke="#555" stroke-width="0.9"/>
<line x1="145.80" y1="369.08" x2="145.80" y2="352.23" stroke="#6a4a20" stroke-width="0.9"/>
<line x1="144.30" y1="352.23" x2="147.30" y2="352.23" stroke="#6a4a20" stroke-width="0.9"/>
<line x1="144.30" y1="369.08" x2="147.30" y2="369.08" stroke="#6a4a20" stroke-width="0.9"/>
<circle cx="128.00" cy="394.36" r="2.3" fill="#dedee2" stroke="#4a4a4a" stroke-width="0.9"/>
<circle cx="128.00" cy="399.92" r="2.3" fill="#dedee2" stroke="#4a4a4a" stroke-width="0.9"/>
<circle cx="124.10" cy="412.38" r="2.3" fill="#dedee2" stroke="#4a4a4a" stroke-width="0.9"/>
<circle cx="131.70" cy="412.38" r="2.3" fill="#dedee2" stroke="#4a4a4a" stroke-width="0.9"/>
<circle cx="145.80" cy="343.81" r="2.3" fill="#dc9a38" stroke="#6e4608" stroke-width="0.95"/>
<circle cx="145.80" cy="353.07" r="2.3" fill="#dc9a38" stroke="#6e4608" stroke-width="0.95"/>
<circle cx="145.80" cy="364.87" r="2.3" fill="#dc9a38" stroke="#6e4608" stroke-width="0.95"/>
<circle cx="145.80" cy="382.56" r="2.3" fill="#dc9a38" stroke="#6e4608" stroke-width="0.95"/>
<line x1="116.10" y1="336.15" x2="116.10" y2="423.60" stroke="#2b2b2b" stroke-width="1.3"/>
<line x1="115.50" y1="423.00" x2="157.40" y2="423.00" stroke="#2b2b2b" stroke-width="1.3"/>
<line x1="113.30" y1="423.00" x2="116.10" y2="423.00" stroke="#2b2b2b" stroke-width="1.1"/>
<text x="110.10" y="425.79" font-size="8.2" text-anchor="end" font-weight="normal" font-style="normal" fill="#262626" stroke="#262626" stroke-width="0.05" >0</text>
<line x1="113.30" y1="406.15" x2="116.10" y2="406.15" stroke="#2b2b2b" stroke-width="1.1"/>
<text x="110.10" y="408.94" font-size="8.2" text-anchor="end" font-weight="normal" font-style="normal" fill="#262626" stroke="#262626" stroke-width="0.05" >1</text>
<line x1="113.30" y1="389.30" x2="116.10" y2="389.30" stroke="#2b2b2b" stroke-width="1.1"/>
<text x="110.10" y="392.09" font-size="8.2" text-anchor="end" font-weight="normal" font-style="normal" fill="#262626" stroke="#262626" stroke-width="0.05" >2</text>
<line x1="113.30" y1="372.45" x2="116.10" y2="372.45" stroke="#2b2b2b" stroke-width="1.1"/>
<text x="110.10" y="375.24" font-size="8.2" text-anchor="end" font-weight="normal" font-style="normal" fill="#262626" stroke="#262626" stroke-width="0.05" >3</text>
<line x1="113.30" y1="355.60" x2="116.10" y2="355.60" stroke="#2b2b2b" stroke-width="1.1"/>
<text x="110.10" y="358.39" font-size="8.2" text-anchor="end" font-weight="normal" font-style="normal" fill="#262626" stroke="#262626" stroke-width="0.05" >4</text>
<line x1="113.30" y1="338.75" x2="116.10" y2="338.75" stroke="#2b2b2b" stroke-width="1.1"/>
<text x="110.10" y="341.54" font-size="8.2" text-anchor="end" font-weight="normal" font-style="normal" fill="#262626" stroke="#262626" stroke-width="0.05" >5</text>
<line x1="128.00" y1="423.00" x2="128.00" y2="425.30" stroke="#2b2b2b" stroke-width="1.0"/>
<text x="128.00" y="435.80" font-size="9.4" text-anchor="middle" font-weight="normal" font-style="normal" fill="#262626" stroke="#262626" stroke-width="0.12" textLength="15.0" lengthAdjust="spacingAndGlyphs" >CTR</text>
<line x1="145.80" y1="423.00" x2="145.80" y2="425.30" stroke="#2b2b2b" stroke-width="1.0"/>
<text x="145.80" y="435.80" font-size="9.4" text-anchor="middle" font-weight="normal" font-style="normal" fill="#262626" stroke="#262626" stroke-width="0.12" textLength="9.3" lengthAdjust="spacingAndGlyphs" >RT</text>
<line x1="127.90" y1="340.30" x2="145.60" y2="340.30" stroke="#555" stroke-width="0.9"/>
<text x="136.75" y="339.80" font-size="7.6" text-anchor="middle" font-weight="bold" font-style="normal" fill="#222" stroke="#222" stroke-width="0.16" >**</text>
<text transform="translate(99.60,378.80) rotate(-90)" font-size="7.7" text-anchor="middle" fill="#262626" stroke="#262626" stroke-width="0.35" textLength="56.2" lengthAdjust="spacingAndGlyphs">Relative expression</text>
<text x="174.00" y="175.50" font-size="11" text-anchor="start" font-weight="bold" font-style="normal" fill="#000" stroke="#000" stroke-width="0.16" >G</text>
<text x="252.80" y="188.10" font-size="7.8" text-anchor="middle" font-weight="normal" font-style="normal" fill="#2a2a2a" stroke="#2a2a2a" stroke-width="0.16" textLength="23.0" lengthAdjust="spacingAndGlyphs" >CAR T</text>
<text x="322.30" y="178.00" font-size="7.6" text-anchor="middle" font-weight="normal" font-style="normal" fill="#2a2a2a" stroke="#2a2a2a" stroke-width="0.16" textLength="48.6" lengthAdjust="spacingAndGlyphs" >Non-Irradiated</text>
<text x="322.50" y="188.10" font-size="7.9" text-anchor="middle" font-weight="normal" font-style="normal" fill="#2a2a2a" stroke="#2a2a2a" stroke-width="0.16" textLength="25.8" lengthAdjust="spacingAndGlyphs" >+CART</text>
<text x="392.10" y="178.00" font-size="7.6" text-anchor="middle" font-weight="normal" font-style="normal" fill="#2a2a2a" stroke="#2a2a2a" stroke-width="0.16" textLength="31.7" lengthAdjust="spacingAndGlyphs" >Irradiated</text>
<text x="392.20" y="188.10" font-size="7.9" text-anchor="middle" font-weight="normal" font-style="normal" fill="#2a2a2a" stroke="#2a2a2a" stroke-width="0.16" textLength="26.4" lengthAdjust="spacingAndGlyphs" >+CART</text>
<line x1="219.20" y1="192.70" x2="285.60" y2="192.70" stroke="#6a6a6a" stroke-width="1.3"/>
<line x1="289.40" y1="192.70" x2="355.20" y2="192.70" stroke="#6a6a6a" stroke-width="1.3"/>
<line x1="359.20" y1="192.70" x2="425.80" y2="192.70" stroke="#6a6a6a" stroke-width="1.3"/>
<text x="215.20" y="206.30" font-size="7.9" text-anchor="end" font-weight="normal" font-style="normal" fill="#222" stroke="#222" stroke-width="0.16" >p-STING</text>
<text x="215.20" y="223.20" font-size="7.9" text-anchor="end" font-weight="normal" font-style="normal" fill="#222" stroke="#222" stroke-width="0.16" >STING</text>
<text x="215.20" y="239.10" font-size="7.9" text-anchor="end" font-weight="normal" font-style="normal" fill="#222" stroke="#222" stroke-width="0.16" >p-IRF3</text>
<text x="215.20" y="255.90" font-size="7.9" text-anchor="end" font-weight="normal" font-style="normal" fill="#222" stroke="#222" stroke-width="0.16" >IRF3</text>
<text x="215.20" y="271.70" font-size="7.9" text-anchor="end" font-weight="normal" font-style="normal" fill="#222" stroke="#222" stroke-width="0.16" >p-TBK1</text>
<text x="215.20" y="288.10" font-size="7.9" text-anchor="end" font-weight="normal" font-style="normal" fill="#222" stroke="#222" stroke-width="0.16" >TBK1</text>
<text x="215.20" y="304.40" font-size="7.9" text-anchor="end" font-weight="normal" font-style="normal" fill="#222" stroke="#222" stroke-width="0.16" >b-TUB</text>
<linearGradient id="g_pSTING" x1="0" x2="1" y1="0" y2="0"><stop offset="0.0062" stop-color="#6e6e6e"/><stop offset="0.0305" stop-color="#6a6a6a"/><stop offset="0.0926" stop-color="#6a6a6a"/><stop offset="0.1168" stop-color="#868686"/><stop offset="0.1411" stop-color="#767676"/><stop offset="0.2032" stop-color="#767676"/><stop offset="0.2273" stop-color="#a8a8a8"/><stop offset="0.2516" stop-color="#a0a0a0"/><stop offset="0.3137" stop-color="#a0a0a0"/><stop offset="0.3379" stop-color="#b0b0b0"/><stop offset="0.3622" stop-color="#a8a8a8"/><stop offset="0.4242" stop-color="#a8a8a8"/><stop offset="0.4484" stop-color="#b4b4b4"/><stop offset="0.4727" stop-color="#aeaeae"/><stop offset="0.5348" stop-color="#aeaeae"/><stop offset="0.5589" stop-color="#b4b4b4"/><stop offset="0.5833" stop-color="#848484"/><stop offset="0.6453" stop-color="#848484"/><stop offset="0.6695" stop-color="#a8a8a8"/><stop offset="0.6938" stop-color="#848484"/><stop offset="0.7559" stop-color="#848484"/><stop offset="0.7800" stop-color="#a6a6a6"/><stop offset="0.8044" stop-color="#7c7c7c"/><stop offset="0.8664" stop-color="#7c7c7c"/><stop offset="0.8906" stop-color="#a6a6a6"/><stop offset="0.9149" stop-color="#848484"/><stop offset="0.9770" stop-color="#848484"/><stop offset="1.0000" stop-color="#8c8c8c"/></linearGradient>
<rect x="217.5" y="198.4" width="209.5" height="10.2" fill="url(#g_pSTING)"/>
<rect x="217.5" y="198.4" width="209.5" height="10.2" fill="url(#noise)" opacity="0.55"/>
<rect x="218.0" y="198.9" width="208.5" height="9.2" fill="none" stroke="#3a3a3a" stroke-width="1"/>
<linearGradient id="g_STING" x1="0" x2="1" y1="0" y2="0"><stop offset="0.0616" stop-color="#f4f4f4"/><stop offset="0.1721" stop-color="#f4f4f4"/><stop offset="0.2827" stop-color="#f4f4f4"/><stop offset="0.3932" stop-color="#f4f4f4"/><stop offset="0.5038" stop-color="#f4f4f4"/><stop offset="0.6143" stop-color="#f4f4f4"/><stop offset="0.7249" stop-color="#f4f4f4"/><stop offset="0.8354" stop-color="#f4f4f4"/><stop offset="0.9460" stop-color="#f4f4f4"/></linearGradient>
<rect x="217.5" y="215.3" width="209.5" height="10.2" fill="url(#g_STING)"/>
<path d="M220.50,217.81 L222.97,217.13 L225.45,217.21 L227.93,217.44 L230.40,217.63 L232.88,217.78 L235.35,217.89 L237.82,218.09 L240.30,218.74 L240.30,219.96 L237.82,220.72 L235.35,220.96 L232.88,221.04 L230.40,221.08 L227.93,221.08 L225.45,221.04 L222.97,220.78 L220.50,219.69Z" fill="#080808" filter="url(#bl)"/>
<path d="M243.66,218.18 L246.13,217.62 L248.61,217.58 L251.09,217.63 L253.56,217.65 L256.03,217.63 L258.51,217.58 L260.99,217.62 L263.46,218.18 L263.46,219.53 L260.99,220.34 L258.51,220.58 L256.03,220.63 L253.56,220.65 L251.09,220.63 L248.61,220.58 L246.13,220.34 L243.66,219.53Z" fill="#1a1a1a" filter="url(#bl)"/>
<path d="M266.82,218.18 L269.30,217.62 L271.77,217.58 L274.25,217.63 L276.72,217.65 L279.20,217.63 L281.67,217.58 L284.15,217.62 L286.62,218.18 L286.62,219.53 L284.15,220.34 L281.67,220.58 L279.20,220.63 L276.72,220.65 L274.25,220.63 L271.77,220.58 L269.30,220.34 L266.82,219.53Z" fill="#121212" filter="url(#bl)"/>
<path d="M289.98,218.18 L292.46,217.62 L294.93,217.58 L297.41,217.63 L299.88,217.65 L302.36,217.63 L304.83,217.58 L307.31,217.62 L309.78,218.18 L309.78,219.53 L307.31,220.34 L304.83,220.58 L302.36,220.63 L299.88,220.65 L297.41,220.63 L294.93,220.58 L292.46,220.34 L289.98,219.53Z" fill="#1a1a1a" filter="url(#bl)"/>
<path d="M313.14,218.18 L315.62,217.62 L318.09,217.58 L320.57,217.63 L323.04,217.65 L325.52,217.63 L327.99,217.58 L330.47,217.62 L332.94,218.18 L332.94,219.53 L330.47,220.34 L327.99,220.58 L325.52,220.63 L323.04,220.65 L320.57,220.63 L318.09,220.58 L315.62,220.34 L313.14,219.53Z" fill="#161616" filter="url(#bl)"/>
<path d="M336.30,218.18 L338.78,217.62 L341.25,217.58 L343.73,217.63 L346.20,217.65 L348.68,217.63 L351.15,217.58 L353.62,217.62 L356.10,218.18 L356.10,219.53 L353.62,220.34 L351.15,220.58 L348.68,220.63 L346.20,220.65 L343.73,220.63 L341.25,220.58 L338.78,220.34 L336.30,219.53Z" fill="#202020" filter="url(#bl)"/>
<path d="M359.46,218.38 L361.94,217.82 L364.41,217.78 L366.89,217.83 L369.36,217.85 L371.84,217.83 L374.31,217.78 L376.79,217.82 L379.26,218.38 L379.26,219.73 L376.79,220.54 L374.31,220.78 L371.84,220.83 L369.36,220.85 L366.89,220.83 L364.41,220.78 L361.94,220.54 L359.46,219.73Z" fill="#222222" filter="url(#bl)"/>
<path d="M382.62,218.47 L385.10,217.94 L387.57,217.92 L390.05,218.01 L392.52,218.05 L395.00,218.06 L397.47,218.03 L399.94,218.09 L402.42,218.67 L402.42,220.03 L399.94,220.82 L397.47,221.03 L395.00,221.06 L392.52,221.05 L390.05,221.01 L387.57,220.92 L385.10,220.67 L382.62,219.83Z" fill="#202020" filter="url(#bl)"/>
<path d="M405.78,218.38 L408.26,217.94 L410.73,218.03 L413.21,218.21 L415.68,218.35 L418.16,218.46 L420.63,218.53 L423.11,218.69 L425.58,219.38 L425.58,220.73 L423.11,221.42 L420.63,221.53 L418.16,221.46 L415.68,221.35 L413.21,221.21 L410.73,221.03 L408.26,220.67 L405.78,219.73Z" fill="#222222" filter="url(#bl)"/>
<rect x="217.5" y="215.3" width="209.5" height="10.2" fill="url(#noise)" opacity="0.3"/>
<rect x="218.0" y="215.8" width="208.5" height="9.2" fill="none" stroke="#3a3a3a" stroke-width="1"/>
<linearGradient id="g_pIRF3" x1="0" x2="1" y1="0" y2="0"><stop offset="0.0062" stop-color="#b0b0b0"/><stop offset="0.0305" stop-color="#a4a4a4"/><stop offset="0.0926" stop-color="#a4a4a4"/><stop offset="0.1168" stop-color="#cacaca"/><stop offset="0.1411" stop-color="#989898"/><stop offset="0.2032" stop-color="#989898"/><stop offset="0.2273" stop-color="#cacaca"/><stop offset="0.2516" stop-color="#a0a0a0"/><stop offset="0.3137" stop-color="#a0a0a0"/><stop offset="0.3379" stop-color="#cacaca"/><stop offset="0.3622" stop-color="#a2a2a2"/><stop offset="0.4242" stop-color="#a2a2a2"/><stop offset="0.4484" stop-color="#cacaca"/><stop offset="0.4727" stop-color="#a0a0a0"/><stop offset="0.5348" stop-color="#a0a0a0"/><stop offset="0.5589" stop-color="#cacaca"/><stop offset="0.5833" stop-color="#9a9a9a"/><stop offset="0.6453" stop-color="#9a9a9a"/><stop offset="0.6695" stop-color="#cacaca"/><stop offset="0.6938" stop-color="#949494"/><stop offset="0.7559" stop-color="#949494"/><stop offset="0.7800" stop-color="#cccccc"/><stop offset="0.8044" stop-color="#9a9a9a"/><stop offset="0.8664" stop-color="#9a9a9a"/><stop offset="0.8906" stop-color="#cacaca"/><stop offset="0.9149" stop-color="#989898"/><stop offset="0.9770" stop-color="#989898"/><stop offset="1.0000" stop-color="#a8a8a8"/></linearGradient>
<rect x="217.5" y="231.2" width="209.5" height="10.2" fill="url(#g_pIRF3)"/>
<rect x="217.5" y="231.2" width="209.5" height="10.2" fill="url(#noise)" opacity="0.55"/>
<rect x="218.0" y="231.7" width="208.5" height="9.2" fill="none" stroke="#3a3a3a" stroke-width="1"/>
<linearGradient id="g_IRF3" x1="0" x2="1" y1="0" y2="0"><stop offset="0.0062" stop-color="#5c5c5c"/><stop offset="0.0305" stop-color="#585858"/><stop offset="0.0926" stop-color="#585858"/><stop offset="0.1168" stop-color="#989898"/><stop offset="0.1411" stop-color="#666666"/><stop offset="0.2032" stop-color="#666666"/><stop offset="0.2273" stop-color="#989898"/><stop offset="0.2516" stop-color="#707070"/><stop offset="0.3137" stop-color="#707070"/><stop offset="0.3379" stop-color="#9c9c9c"/><stop offset="0.3622" stop-color="#747474"/><stop offset="0.4242" stop-color="#747474"/><stop offset="0.4484" stop-color="#a0a0a0"/><stop offset="0.4727" stop-color="#828282"/><stop offset="0.5348" stop-color="#828282"/><stop offset="0.5589" stop-color="#a0a0a0"/><stop offset="0.5833" stop-color="#686868"/><stop offset="0.6453" stop-color="#686868"/><stop offset="0.6695" stop-color="#9c9c9c"/><stop offset="0.6938" stop-color="#505050"/><stop offset="0.7559" stop-color="#505050"/><stop offset="0.7800" stop-color="#a0a0a0"/><stop offset="0.8044" stop-color="#666666"/><stop offset="0.8664" stop-color="#666666"/><stop offset="0.8906" stop-color="#9c9c9c"/><stop offset="0.9149" stop-color="#747474"/><stop offset="0.9770" stop-color="#747474"/><stop offset="1.0000" stop-color="#6c6c6c"/></linearGradient>
<rect x="217.5" y="248.0" width="209.5" height="10.2" fill="url(#g_IRF3)"/>
<path d="M220.50,251.96 L222.97,251.33 L225.45,251.29 L227.93,251.35 L230.40,251.37 L232.88,251.35 L235.35,251.29 L237.82,251.33 L240.30,251.96 L240.30,253.49 L237.82,254.42 L235.35,254.69 L232.88,254.75 L230.40,254.77 L227.93,254.75 L225.45,254.69 L222.97,254.42 L220.50,253.49Z" fill="#505050" filter="url(#bl)"/>
<path d="M243.66,251.96 L246.13,251.33 L248.61,251.29 L251.09,251.35 L253.56,251.37 L256.03,251.35 L258.51,251.29 L260.99,251.33 L263.46,251.96 L263.46,253.49 L260.99,254.42 L258.51,254.69 L256.03,254.75 L253.56,254.77 L251.09,254.75 L248.61,254.69 L246.13,254.42 L243.66,253.49Z" fill="#5a5a5a" filter="url(#bl)"/>
<path d="M266.82,251.96 L269.30,251.33 L271.77,251.29 L274.25,251.35 L276.72,251.37 L279.20,251.35 L281.67,251.29 L284.15,251.33 L286.62,251.96 L286.62,253.49 L284.15,254.42 L281.67,254.69 L279.20,254.75 L276.72,254.77 L274.25,254.75 L271.77,254.69 L269.30,254.42 L266.82,253.49Z" fill="#666666" filter="url(#bl)"/>
<path d="M289.98,251.96 L292.46,251.33 L294.93,251.29 L297.41,251.35 L299.88,251.37 L302.36,251.35 L304.83,251.29 L307.31,251.33 L309.78,251.96 L309.78,253.49 L307.31,254.42 L304.83,254.69 L302.36,254.75 L299.88,254.77 L297.41,254.75 L294.93,254.69 L292.46,254.42 L289.98,253.49Z" fill="#6a6a6a" filter="url(#bl)"/>
<path d="M313.14,251.96 L315.62,251.33 L318.09,251.29 L320.57,251.35 L323.04,251.37 L325.52,251.35 L327.99,251.29 L330.47,251.33 L332.94,251.96 L332.94,253.49 L330.47,254.42 L327.99,254.69 L325.52,254.75 L323.04,254.77 L320.57,254.75 L318.09,254.69 L315.62,254.42 L313.14,253.49Z" fill="#7a7a7a" filter="url(#bl)"/>
<path d="M336.30,251.96 L338.78,251.33 L341.25,251.29 L343.73,251.35 L346.20,251.37 L348.68,251.35 L351.15,251.29 L353.62,251.33 L356.10,251.96 L356.10,253.49 L353.62,254.42 L351.15,254.69 L348.68,254.75 L346.20,254.77 L343.73,254.75 L341.25,254.69 L338.78,254.42 L336.30,253.49Z" fill="#5e5e5e" filter="url(#bl)"/>
<path d="M359.46,251.96 L361.94,251.33 L364.41,251.29 L366.89,251.35 L369.36,251.37 L371.84,251.35 L374.31,251.29 L376.79,251.33 L379.26,251.96 L379.26,253.49 L376.79,254.42 L374.31,254.69 L371.84,254.75 L369.36,254.77 L366.89,254.75 L364.41,254.69 L361.94,254.42 L359.46,253.49Z" fill="#383838" filter="url(#bl)"/>
<path d="M382.62,251.96 L385.10,251.33 L387.57,251.29 L390.05,251.35 L392.52,251.37 L395.00,251.35 L397.47,251.29 L399.94,251.33 L402.42,251.96 L402.42,253.49 L399.94,254.42 L397.47,254.69 L395.00,254.75 L392.52,254.77 L390.05,254.75 L387.57,254.69 L385.10,254.42 L382.62,253.49Z" fill="#484848" filter="url(#bl)"/>
<path d="M405.78,251.96 L408.26,251.33 L410.73,251.29 L413.21,251.35 L415.68,251.37 L418.16,251.35 L420.63,251.29 L423.11,251.33 L425.58,251.96 L425.58,253.49 L423.11,254.42 L420.63,254.69 L418.16,254.75 L415.68,254.77 L413.21,254.75 L410.73,254.69 L408.26,254.42 L405.78,253.49Z" fill="#6c6c6c" filter="url(#bl)"/>
<rect x="217.5" y="248.0" width="209.5" height="10.2" fill="url(#noise)" opacity="0.55"/>
<rect x="218.0" y="248.5" width="208.5" height="9.2" fill="none" stroke="#3a3a3a" stroke-width="1"/>
<linearGradient id="g_pTBK1" x1="0" x2="1" y1="0" y2="0"><stop offset="0.0616" stop-color="#d8d8d8"/><stop offset="0.1721" stop-color="#e2e2e2"/><stop offset="0.2827" stop-color="#e0e0e0"/><stop offset="0.3932" stop-color="#e0e0e0"/><stop offset="0.5038" stop-color="#e6e6e6"/><stop offset="0.6143" stop-color="#dcdcdc"/><stop offset="0.7249" stop-color="#d8d8d8"/><stop offset="0.8354" stop-color="#d8d8d8"/><stop offset="0.9460" stop-color="#d8d8d8"/></linearGradient>
<rect x="217.5" y="263.8" width="209.5" height="10.2" fill="url(#g_pTBK1)"/>
<path d="M220.50,266.14 L222.97,265.70 L225.45,265.69 L227.93,265.75 L230.40,265.78 L232.88,265.75 L235.35,265.69 L237.82,265.70 L240.30,266.14 L240.30,267.31 L237.82,268.06 L235.35,268.29 L232.88,268.35 L230.40,268.38 L227.93,268.35 L225.45,268.29 L222.97,268.06 L220.50,267.31Z" fill="#808080" filter="url(#bl)"/>
<path d="M243.66,266.44 L246.13,266.00 L248.61,265.99 L251.09,266.05 L253.56,266.08 L256.03,266.05 L258.51,265.99 L260.99,266.00 L263.46,266.44 L263.46,267.61 L260.99,268.36 L258.51,268.59 L256.03,268.65 L253.56,268.68 L251.09,268.65 L248.61,268.59 L246.13,268.36 L243.66,267.61Z" fill="#c0c0c0" filter="url(#bl)"/>
<path d="M266.82,266.44 L269.30,266.00 L271.77,265.99 L274.25,266.05 L276.72,266.08 L279.20,266.05 L281.67,265.99 L284.15,266.00 L286.62,266.44 L286.62,267.61 L284.15,268.36 L281.67,268.59 L279.20,268.65 L276.72,268.68 L274.25,268.65 L271.77,268.59 L269.30,268.36 L266.82,267.61Z" fill="#a0a0a0" filter="url(#bl)"/>
<path d="M289.98,266.54 L292.46,266.10 L294.93,266.09 L297.41,266.15 L299.88,266.18 L302.36,266.15 L304.83,266.09 L307.31,266.10 L309.78,266.54 L309.78,267.71 L307.31,268.46 L304.83,268.69 L302.36,268.75 L299.88,268.78 L297.41,268.75 L294.93,268.69 L292.46,268.46 L289.98,267.71Z" fill="#909090" filter="url(#bl)"/>
<path d="M313.14,266.64 L315.62,266.20 L318.09,266.19 L320.57,266.25 L323.04,266.28 L325.52,266.25 L327.99,266.19 L330.47,266.20 L332.94,266.64 L332.94,267.81 L330.47,268.56 L327.99,268.79 L325.52,268.85 L323.04,268.88 L320.57,268.85 L318.09,268.79 L315.62,268.56 L313.14,267.81Z" fill="#d6d6d6" filter="url(#bl)"/>
<path d="M336.30,266.74 L338.78,266.30 L341.25,266.29 L343.73,266.35 L346.20,266.38 L348.68,266.35 L351.15,266.29 L353.62,266.30 L356.10,266.74 L356.10,267.91 L353.62,268.66 L351.15,268.89 L348.68,268.95 L346.20,268.98 L343.73,268.95 L341.25,268.89 L338.78,268.66 L336.30,267.91Z" fill="#606060" filter="url(#bl)"/>
<path d="M359.46,267.54 L361.94,267.10 L364.41,267.09 L366.89,267.15 L369.36,267.18 L371.84,267.15 L374.31,267.09 L376.79,267.10 L379.26,267.54 L379.26,268.71 L376.79,269.46 L374.31,269.69 L371.84,269.75 L369.36,269.78 L366.89,269.75 L364.41,269.69 L361.94,269.46 L359.46,268.71Z" fill="#3c3c3c" filter="url(#bl)"/>
<path d="M382.62,268.54 L385.10,268.10 L387.57,268.09 L390.05,268.15 L392.52,268.18 L395.00,268.15 L397.47,268.09 L399.94,268.10 L402.42,268.54 L402.42,269.71 L399.94,270.46 L397.47,270.69 L395.00,270.75 L392.52,270.78 L390.05,270.75 L387.57,270.69 L385.10,270.46 L382.62,269.71Z" fill="#444444" filter="url(#bl)"/>
<path d="M405.78,269.14 L408.26,268.70 L410.73,268.69 L413.21,268.75 L415.68,268.78 L418.16,268.75 L420.63,268.69 L423.11,268.70 L425.58,269.14 L425.58,270.31 L423.11,271.06 L420.63,271.29 L418.16,271.35 L415.68,271.38 L413.21,271.35 L410.73,271.29 L408.26,271.06 L405.78,270.31Z" fill="#484848" filter="url(#bl)"/>
<rect x="217.5" y="263.8" width="209.5" height="10.2" fill="url(#noise)" opacity="0.3"/>
<rect x="218.0" y="264.3" width="208.5" height="9.2" fill="none" stroke="#3a3a3a" stroke-width="1"/>
<linearGradient id="g_TBK1" x1="0" x2="1" y1="0" y2="0"><stop offset="0.0616" stop-color="#f0f0f0"/><stop offset="0.1721" stop-color="#f0f0f0"/><stop offset="0.2827" stop-color="#f0f0f0"/><stop offset="0.3932" stop-color="#f0f0f0"/><stop offset="0.5038" stop-color="#f0f0f0"/><stop offset="0.6143" stop-color="#f0f0f0"/><stop offset="0.7249" stop-color="#f0f0f0"/><stop offset="0.8354" stop-color="#f0f0f0"/><stop offset="0.9460" stop-color="#f0f0f0"/></linearGradient>
<rect x="217.5" y="280.2" width="209.5" height="10.2" fill="url(#g_TBK1)"/>
<rect x="217.5" y="280.2" width="209.5" height="10.2" fill="url(#vshade)"/>
<path d="M220.50,283.03 L222.97,282.52 L225.45,282.52 L227.93,282.62 L230.40,282.65 L232.88,282.62 L235.35,282.52 L237.82,282.52 L240.30,283.03 L240.30,284.47 L237.82,285.42 L235.35,285.73 L232.88,285.82 L230.40,285.85 L227.93,285.82 L225.45,285.73 L222.97,285.42 L220.50,284.47Z" fill="#121212" filter="url(#bl)"/>
<path d="M243.66,283.23 L246.13,282.72 L248.61,282.72 L251.09,282.82 L253.56,282.85 L256.03,282.82 L258.51,282.72 L260.99,282.72 L263.46,283.23 L263.46,284.67 L260.99,285.62 L258.51,285.93 L256.03,286.02 L253.56,286.05 L251.09,286.02 L248.61,285.93 L246.13,285.62 L243.66,284.67Z" fill="#141414" filter="url(#bl)"/>
<path d="M266.82,283.23 L269.30,282.72 L271.77,282.72 L274.25,282.82 L276.72,282.85 L279.20,282.82 L281.67,282.72 L284.15,282.72 L286.62,283.23 L286.62,284.67 L284.15,285.62 L281.67,285.93 L279.20,286.02 L276.72,286.05 L274.25,286.02 L271.77,285.93 L269.30,285.62 L266.82,284.67Z" fill="#161616" filter="url(#bl)"/>
<path d="M289.98,283.03 L292.46,282.52 L294.93,282.52 L297.41,282.62 L299.88,282.65 L302.36,282.62 L304.83,282.52 L307.31,282.52 L309.78,283.03 L309.78,284.47 L307.31,285.42 L304.83,285.73 L302.36,285.82 L299.88,285.85 L297.41,285.82 L294.93,285.73 L292.46,285.42 L289.98,284.47Z" fill="#161616" filter="url(#bl)"/>
<path d="M313.14,283.03 L315.62,282.52 L318.09,282.52 L320.57,282.62 L323.04,282.65 L325.52,282.62 L327.99,282.52 L330.47,282.52 L332.94,283.03 L332.94,284.47 L330.47,285.42 L327.99,285.73 L325.52,285.82 L323.04,285.85 L320.57,285.82 L318.09,285.73 L315.62,285.42 L313.14,284.47Z" fill="#181818" filter="url(#bl)"/>
<path d="M336.30,283.03 L338.78,282.52 L341.25,282.52 L343.73,282.62 L346.20,282.65 L348.68,282.62 L351.15,282.52 L353.62,282.52 L356.10,283.03 L356.10,284.47 L353.62,285.42 L351.15,285.73 L348.68,285.82 L346.20,285.85 L343.73,285.82 L341.25,285.73 L338.78,285.42 L336.30,284.47Z" fill="#141414" filter="url(#bl)"/>
<path d="M359.46,284.10 L361.94,283.86 L364.41,283.93 L366.89,284.02 L369.36,284.05 L371.84,284.02 L374.31,283.93 L376.79,283.86 L379.26,284.10 L379.26,285.00 L376.79,285.68 L374.31,285.93 L371.84,286.02 L369.36,286.05 L366.89,286.02 L364.41,285.93 L361.94,285.68 L359.46,285.00Z" fill="#7a7a7a" filter="url(#bl)"/>
<path d="M382.62,283.63 L385.10,283.12 L387.57,283.12 L390.05,283.22 L392.52,283.25 L395.00,283.22 L397.47,283.12 L399.94,283.12 L402.42,283.63 L402.42,285.07 L399.94,286.02 L397.47,286.33 L395.00,286.42 L392.52,286.45 L390.05,286.42 L387.57,286.33 L385.10,286.02 L382.62,285.07Z" fill="#1c1c1c" filter="url(#bl)"/>
<path d="M405.78,283.83 L408.26,283.32 L410.73,283.32 L413.21,283.42 L415.68,283.45 L418.16,283.42 L420.63,283.32 L423.11,283.32 L425.58,283.83 L425.58,285.27 L423.11,286.22 L420.63,286.53 L418.16,286.62 L415.68,286.65 L413.21,286.62 L410.73,286.53 L408.26,286.22 L405.78,285.27Z" fill="#303030" filter="url(#bl)"/>
<rect x="217.5" y="280.2" width="209.5" height="10.2" fill="url(#noise)" opacity="0.3"/>
<rect x="218.0" y="280.7" width="208.5" height="9.2" fill="none" stroke="#3a3a3a" stroke-width="1"/>
<linearGradient id="g_bTUB" x1="0" x2="1" y1="0" y2="0"><stop offset="0.0616" stop-color="#c2c2c2"/><stop offset="0.1721" stop-color="#c2c2c2"/><stop offset="0.2827" stop-color="#c2c2c2"/><stop offset="0.3932" stop-color="#c2c2c2"/><stop offset="0.5038" stop-color="#c2c2c2"/><stop offset="0.6143" stop-color="#c2c2c2"/><stop offset="0.7249" stop-color="#c2c2c2"/><stop offset="0.8354" stop-color="#c2c2c2"/><stop offset="0.9460" stop-color="#c2c2c2"/></linearGradient>
<rect x="217.5" y="296.5" width="209.5" height="10.2" fill="url(#g_bTUB)"/>
<rect x="217.5" y="296.5" width="209.5" height="10.2" fill="url(#vshade)"/>
<path d="M220.50,301.24 L222.97,300.63 L225.45,300.62 L227.93,300.72 L230.40,300.75 L232.88,300.72 L235.35,300.62 L237.82,300.63 L240.30,301.24 L240.30,302.86 L237.82,303.90 L235.35,304.23 L232.88,304.32 L230.40,304.35 L227.93,304.32 L225.45,304.23 L222.97,303.90 L220.50,302.86Z" fill="#101010" filter="url(#bl)"/>
<path d="M243.66,301.34 L246.13,300.73 L248.61,300.73 L251.09,300.82 L253.56,300.85 L256.03,300.82 L258.51,300.73 L260.99,300.73 L263.46,301.34 L263.46,302.96 L260.99,304.00 L258.51,304.33 L256.03,304.42 L253.56,304.45 L251.09,304.42 L248.61,304.33 L246.13,304.00 L243.66,302.96Z" fill="#141414" filter="url(#bl)"/>
<path d="M266.82,301.04 L269.30,300.43 L271.77,300.43 L274.25,300.52 L276.72,300.55 L279.20,300.52 L281.67,300.43 L284.15,300.43 L286.62,301.04 L286.62,302.66 L284.15,303.70 L281.67,304.03 L279.20,304.12 L276.72,304.15 L274.25,304.12 L271.77,304.03 L269.30,303.70 L266.82,302.66Z" fill="#101010" filter="url(#bl)"/>
<path d="M289.98,301.04 L292.46,300.43 L294.93,300.43 L297.41,300.52 L299.88,300.55 L302.36,300.52 L304.83,300.43 L307.31,300.43 L309.78,301.04 L309.78,302.66 L307.31,303.70 L304.83,304.03 L302.36,304.12 L299.88,304.15 L297.41,304.12 L294.93,304.03 L292.46,303.70 L289.98,302.66Z" fill="#101010" filter="url(#bl)"/>
<path d="M313.14,301.04 L315.62,300.43 L318.09,300.43 L320.57,300.52 L323.04,300.55 L325.52,300.52 L327.99,300.43 L330.47,300.43 L332.94,301.04 L332.94,302.66 L330.47,303.70 L327.99,304.03 L325.52,304.12 L323.04,304.15 L320.57,304.12 L318.09,304.03 L315.62,303.70 L313.14,302.66Z" fill="#141414" filter="url(#bl)"/>
<path d="M336.30,301.04 L338.78,300.43 L341.25,300.43 L343.73,300.52 L346.20,300.55 L348.68,300.52 L351.15,300.43 L353.62,300.43 L356.10,301.04 L356.10,302.66 L353.62,303.70 L351.15,304.03 L348.68,304.12 L346.20,304.15 L343.73,304.12 L341.25,304.03 L338.78,303.70 L336.30,302.66Z" fill="#101010" filter="url(#bl)"/>
<path d="M359.46,301.24 L361.94,300.63 L364.41,300.62 L366.89,300.72 L369.36,300.75 L371.84,300.72 L374.31,300.62 L376.79,300.63 L379.26,301.24 L379.26,302.86 L376.79,303.90 L374.31,304.23 L371.84,304.32 L369.36,304.35 L366.89,304.32 L364.41,304.23 L361.94,303.90 L359.46,302.86Z" fill="#181818" filter="url(#bl)"/>
<path d="M382.62,301.34 L385.10,300.73 L387.57,300.73 L390.05,300.82 L392.52,300.85 L395.00,300.82 L397.47,300.73 L399.94,300.73 L402.42,301.34 L402.42,302.96 L399.94,304.00 L397.47,304.33 L395.00,304.42 L392.52,304.45 L390.05,304.42 L387.57,304.33 L385.10,304.00 L382.62,302.96Z" fill="#141414" filter="url(#bl)"/>
<path d="M405.78,301.34 L408.26,300.73 L410.73,300.73 L413.21,300.82 L415.68,300.85 L418.16,300.82 L420.63,300.73 L423.11,300.73 L425.58,301.34 L425.58,302.96 L423.11,304.00 L420.63,304.33 L418.16,304.42 L415.68,304.45 L413.21,304.42 L410.73,304.33 L408.26,304.00 L405.78,302.96Z" fill="#141414" filter="url(#bl)"/>
<rect x="217.5" y="296.5" width="209.5" height="10.2" fill="url(#noise)" opacity="0.55"/>
<rect x="218.0" y="297.0" width="208.5" height="9.2" fill="none" stroke="#3a3a3a" stroke-width="1"/>
<text x="246.60" y="330.00" font-size="9.4" text-anchor="middle" font-weight="normal" font-style="normal" fill="#222" stroke="#222" stroke-width="0.1" >p-STING</text>
<rect x="221.10" y="381.32" width="12.60" height="41.48" fill="#9086cc" />
<line x1="227.40" y1="391.79" x2="227.40" y2="370.84" stroke="#222" stroke-width="0.9"/>
<line x1="225.15" y1="370.84" x2="229.65" y2="370.84" stroke="#222" stroke-width="0.9"/>
<line x1="225.15" y1="391.79" x2="229.65" y2="391.79" stroke="#222" stroke-width="0.9"/>
<circle cx="227.40" cy="367.91" r="2.3" fill="#111"/>
<circle cx="227.40" cy="372.52" r="2.3" fill="#111"/>
<circle cx="227.40" cy="402.27" r="2.3" fill="#111"/>
<rect x="240.20" y="397.24" width="12.60" height="25.56" fill="#bccf98" />
<line x1="246.50" y1="403.11" x2="246.50" y2="390.54" stroke="#222" stroke-width="0.9"/>
<line x1="244.25" y1="390.54" x2="248.75" y2="390.54" stroke="#222" stroke-width="0.9"/>
<line x1="244.25" y1="403.11" x2="248.75" y2="403.11" stroke="#222" stroke-width="0.9"/>
<circle cx="246.50" cy="385.51" r="2.3" fill="#111"/>
<circle cx="246.50" cy="397.66" r="2.3" fill="#111"/>
<circle cx="246.50" cy="408.55" r="2.3" fill="#111"/>
<rect x="259.30" y="361.21" width="12.60" height="61.59" fill="#2aa7e0" />
<line x1="265.60" y1="370.43" x2="265.60" y2="354.92" stroke="#222" stroke-width="0.9"/>
<line x1="263.35" y1="354.92" x2="267.85" y2="354.92" stroke="#222" stroke-width="0.9"/>
<line x1="263.35" y1="370.43" x2="267.85" y2="370.43" stroke="#222" stroke-width="0.9"/>
<circle cx="260.80" cy="353.25" r="2.3" fill="#111"/>
<circle cx="269.20" cy="354.92" r="2.3" fill="#111"/>
<circle cx="265.60" cy="375.87" r="2.3" fill="#111"/>
<line x1="214.80" y1="336.40" x2="214.80" y2="423.40" stroke="#2b2b2b" stroke-width="1.3"/>
<line x1="214.20" y1="422.80" x2="278.40" y2="422.80" stroke="#2b2b2b" stroke-width="1.3"/>
<line x1="212.00" y1="422.80" x2="214.80" y2="422.80" stroke="#2b2b2b" stroke-width="1.1"/>
<text x="209.60" y="424.99" font-size="7.9" text-anchor="end" font-weight="normal" font-style="normal" fill="#262626" stroke="#262626" stroke-width="0.05" >0.0</text>
<line x1="212.00" y1="401.85" x2="214.80" y2="401.85" stroke="#2b2b2b" stroke-width="1.1"/>
<text x="209.60" y="404.04" font-size="7.9" text-anchor="end" font-weight="normal" font-style="normal" fill="#262626" stroke="#262626" stroke-width="0.05" >0.5</text>
<line x1="212.00" y1="380.90" x2="214.80" y2="380.90" stroke="#2b2b2b" stroke-width="1.1"/>
<text x="209.60" y="383.09" font-size="7.9" text-anchor="end" font-weight="normal" font-style="normal" fill="#262626" stroke="#262626" stroke-width="0.05" >1.0</text>
<line x1="212.00" y1="359.95" x2="214.80" y2="359.95" stroke="#2b2b2b" stroke-width="1.1"/>
<text x="209.60" y="362.14" font-size="7.9" text-anchor="end" font-weight="normal" font-style="normal" fill="#262626" stroke="#262626" stroke-width="0.05" >1.5</text>
<line x1="212.00" y1="339.00" x2="214.80" y2="339.00" stroke="#2b2b2b" stroke-width="1.1"/>
<text x="209.60" y="341.19" font-size="7.9" text-anchor="end" font-weight="normal" font-style="normal" fill="#262626" stroke="#262626" stroke-width="0.05" >2.0</text>
<line x1="248.20" y1="348.20" x2="265.80" y2="348.20" stroke="#555" stroke-width="0.9"/>
<text x="257.00" y="347.60" font-size="7.6" text-anchor="middle" font-weight="bold" font-style="normal" fill="#222" stroke="#222" stroke-width="0.16" >*</text>
<text transform="translate(191.40,378.80) rotate(-90)" font-size="7.8" text-anchor="middle" fill="#262626" stroke="#262626" stroke-width="0.3" textLength="61" lengthAdjust="spacingAndGlyphs">Relative protein level</text>
<text x="343.00" y="330.00" font-size="9.4" text-anchor="middle" font-weight="normal" font-style="normal" fill="#222" stroke="#222" stroke-width="0.1" >p-IRF3</text>
<rect x="318.50" y="406.30" width="12.60" height="16.70" fill="#9086cc" />
<line x1="324.80" y1="411.31" x2="324.80" y2="402.12" stroke="#222" stroke-width="0.9"/>
<line x1="322.55" y1="402.12" x2="327.05" y2="402.12" stroke="#222" stroke-width="0.9"/>
<line x1="322.55" y1="411.31" x2="327.05" y2="411.31" stroke="#222" stroke-width="0.9"/>
<circle cx="320.60" cy="401.96" r="2.3" fill="#111"/>
<circle cx="329.80" cy="402.46" r="2.3" fill="#111"/>
<circle cx="324.80" cy="414.82" r="2.3" fill="#111"/>
<rect x="337.20" y="399.29" width="12.60" height="23.71" fill="#bccf98" />
<line x1="343.50" y1="403.80" x2="343.50" y2="395.44" stroke="#222" stroke-width="0.9"/>
<line x1="341.25" y1="395.44" x2="345.75" y2="395.44" stroke="#222" stroke-width="0.9"/>
<line x1="341.25" y1="403.80" x2="345.75" y2="403.80" stroke="#222" stroke-width="0.9"/>
<circle cx="343.50" cy="394.28" r="2.3" fill="#111"/>
<circle cx="343.50" cy="397.95" r="2.3" fill="#111"/>
<circle cx="343.50" cy="406.30" r="2.3" fill="#111"/>
<rect x="356.20" y="367.89" width="12.60" height="55.11" fill="#2aa7e0" />
<line x1="362.50" y1="377.07" x2="362.50" y2="358.70" stroke="#222" stroke-width="0.9"/>
<line x1="360.25" y1="358.70" x2="364.75" y2="358.70" stroke="#222" stroke-width="0.9"/>
<line x1="360.25" y1="377.07" x2="364.75" y2="377.07" stroke="#222" stroke-width="0.9"/>
<circle cx="362.50" cy="354.53" r="2.3" fill="#111"/>
<circle cx="362.50" cy="367.89" r="2.3" fill="#111"/>
<circle cx="362.50" cy="386.26" r="2.3" fill="#111"/>
<line x1="311.00" y1="336.90" x2="311.00" y2="423.60" stroke="#2b2b2b" stroke-width="1.3"/>
<line x1="310.40" y1="423.00" x2="375.40" y2="423.00" stroke="#2b2b2b" stroke-width="1.3"/>
<line x1="308.20" y1="423.00" x2="311.00" y2="423.00" stroke="#2b2b2b" stroke-width="1.1"/>
<text x="305.80" y="425.19" font-size="7.9" text-anchor="end" font-weight="normal" font-style="normal" fill="#262626" stroke="#262626" stroke-width="0.05" >0</text>
<line x1="308.20" y1="406.30" x2="311.00" y2="406.30" stroke="#2b2b2b" stroke-width="1.1"/>
<text x="305.80" y="408.49" font-size="7.9" text-anchor="end" font-weight="normal" font-style="normal" fill="#262626" stroke="#262626" stroke-width="0.05" >1</text>
<line x1="308.20" y1="389.60" x2="311.00" y2="389.60" stroke="#2b2b2b" stroke-width="1.1"/>
<text x="305.80" y="391.79" font-size="7.9" text-anchor="end" font-weight="normal" font-style="normal" fill="#262626" stroke="#262626" stroke-width="0.05" >2</text>
<line x1="308.20" y1="372.90" x2="311.00" y2="372.90" stroke="#2b2b2b" stroke-width="1.1"/>
<text x="305.80" y="375.09" font-size="7.9" text-anchor="end" font-weight="normal" font-style="normal" fill="#262626" stroke="#262626" stroke-width="0.05" >3</text>
<line x1="308.20" y1="356.20" x2="311.00" y2="356.20" stroke="#2b2b2b" stroke-width="1.1"/>
<text x="305.80" y="358.39" font-size="7.9" text-anchor="end" font-weight="normal" font-style="normal" fill="#262626" stroke="#262626" stroke-width="0.05" >4</text>
<line x1="308.20" y1="339.50" x2="311.00" y2="339.50" stroke="#2b2b2b" stroke-width="1.1"/>
<text x="305.80" y="341.69" font-size="7.9" text-anchor="end" font-weight="normal" font-style="normal" fill="#262626" stroke="#262626" stroke-width="0.05" >5</text>
<line x1="344.70" y1="347.10" x2="361.50" y2="347.10" stroke="#555" stroke-width="0.9"/>
<text x="353.10" y="346.50" font-size="7.6" text-anchor="middle" font-weight="bold" font-style="normal" fill="#222" stroke="#222" stroke-width="0.16" >*</text>
<text transform="translate(292.80,378.80) rotate(-90)" font-size="7.8" text-anchor="middle" fill="#262626" stroke="#262626" stroke-width="0.3" textLength="61" lengthAdjust="spacingAndGlyphs">Relative protein level</text>
<text x="431.20" y="330.00" font-size="9.4" text-anchor="middle" font-weight="normal" font-style="normal" fill="#222" stroke="#222" stroke-width="0.1" >p-TBK1</text>
<rect x="415.80" y="402.10" width="12.60" height="20.90" fill="#9086cc" />
<line x1="422.10" y1="406.28" x2="422.10" y2="397.50" stroke="#222" stroke-width="0.9"/>
<line x1="419.85" y1="397.50" x2="424.35" y2="397.50" stroke="#222" stroke-width="0.9"/>
<line x1="419.85" y1="406.28" x2="424.35" y2="406.28" stroke="#222" stroke-width="0.9"/>
<circle cx="422.10" cy="393.95" r="2.3" fill="#111"/>
<circle cx="422.10" cy="403.98" r="2.3" fill="#111"/>
<circle cx="422.10" cy="409.42" r="2.3" fill="#111"/>
<rect x="434.30" y="407.53" width="12.60" height="15.47" fill="#bccf98" />
<line x1="440.60" y1="414.64" x2="440.60" y2="400.43" stroke="#222" stroke-width="0.9"/>
<line x1="438.35" y1="400.43" x2="442.85" y2="400.43" stroke="#222" stroke-width="0.9"/>
<line x1="438.35" y1="414.64" x2="442.85" y2="414.64" stroke="#222" stroke-width="0.9"/>
<circle cx="440.60" cy="396.67" r="2.3" fill="#111"/>
<circle cx="440.60" cy="410.67" r="2.3" fill="#111"/>
<circle cx="440.60" cy="421.75" r="2.3" fill="#111"/>
<rect x="453.30" y="372.42" width="12.60" height="50.58" fill="#2aa7e0" />
<line x1="459.60" y1="382.25" x2="459.60" y2="362.39" stroke="#222" stroke-width="0.9"/>
<line x1="457.35" y1="362.39" x2="461.85" y2="362.39" stroke="#222" stroke-width="0.9"/>
<line x1="457.35" y1="382.25" x2="461.85" y2="382.25" stroke="#222" stroke-width="0.9"/>
<circle cx="459.60" cy="357.58" r="2.3" fill="#111"/>
<circle cx="459.60" cy="374.93" r="2.3" fill="#111"/>
<circle cx="459.60" cy="389.56" r="2.3" fill="#111"/>
<line x1="407.90" y1="336.80" x2="407.90" y2="423.60" stroke="#2b2b2b" stroke-width="1.3"/>
<line x1="407.30" y1="423.00" x2="472.00" y2="423.00" stroke="#2b2b2b" stroke-width="1.3"/>
<line x1="405.10" y1="423.00" x2="407.90" y2="423.00" stroke="#2b2b2b" stroke-width="1.1"/>
<text x="402.70" y="425.19" font-size="7.9" text-anchor="end" font-weight="normal" font-style="normal" fill="#262626" stroke="#262626" stroke-width="0.05" >0</text>
<line x1="405.10" y1="402.10" x2="407.90" y2="402.10" stroke="#2b2b2b" stroke-width="1.1"/>
<text x="402.70" y="404.29" font-size="7.9" text-anchor="end" font-weight="normal" font-style="normal" fill="#262626" stroke="#262626" stroke-width="0.05" >1</text>
<line x1="405.10" y1="381.20" x2="407.90" y2="381.20" stroke="#2b2b2b" stroke-width="1.1"/>
<text x="402.70" y="383.39" font-size="7.9" text-anchor="end" font-weight="normal" font-style="normal" fill="#262626" stroke="#262626" stroke-width="0.05" >2</text>
<line x1="405.10" y1="360.30" x2="407.90" y2="360.30" stroke="#2b2b2b" stroke-width="1.1"/>
<text x="402.70" y="362.49" font-size="7.9" text-anchor="end" font-weight="normal" font-style="normal" fill="#262626" stroke="#262626" stroke-width="0.05" >3</text>
<line x1="405.10" y1="339.40" x2="407.90" y2="339.40" stroke="#2b2b2b" stroke-width="1.1"/>
<text x="402.70" y="341.59" font-size="7.9" text-anchor="end" font-weight="normal" font-style="normal" fill="#262626" stroke="#262626" stroke-width="0.05" >4</text>
<line x1="440.50" y1="350.80" x2="457.80" y2="350.80" stroke="#555" stroke-width="0.9"/>
<text x="449.15" y="350.20" font-size="7.6" text-anchor="middle" font-weight="bold" font-style="normal" fill="#222" stroke="#222" stroke-width="0.16" >*</text>
<text transform="translate(390.00,378.80) rotate(-90)" font-size="7.8" text-anchor="middle" fill="#262626" stroke="#262626" stroke-width="0.3" textLength="61" lengthAdjust="spacingAndGlyphs">Relative protein level</text>
<rect x="253.40" y="430.40" width="5.50" height="5.70" fill="#9086cc" />
<text x="262.60" y="436.00" font-size="7.1" text-anchor="start" font-weight="normal" font-style="normal" fill="#333" stroke="#333" stroke-width="0.16" >CART</text>
<rect x="285.40" y="430.40" width="5.80" height="5.70" fill="#bccf98" />
<text x="294.30" y="436.00" font-size="7.1" text-anchor="start" font-weight="normal" font-style="normal" fill="#333" stroke="#333" stroke-width="0.16" textLength="69.2" lengthAdjust="spacingAndGlyphs" >Non-Irradiated+CART</text>
<rect x="371.10" y="430.40" width="5.20" height="5.70" fill="#2aa7e0" />
<text x="379.00" y="436.00" font-size="7.1" text-anchor="start" font-weight="normal" font-style="normal" fill="#333" stroke="#333" stroke-width="0.16" textLength="54.4" lengthAdjust="spacingAndGlyphs" >Irradiated+CART</text>
<rect x="0.5" y="0.5" width="519" height="444" fill="none" stroke="#555" stroke-width="1"/>
</svg></body></html>
